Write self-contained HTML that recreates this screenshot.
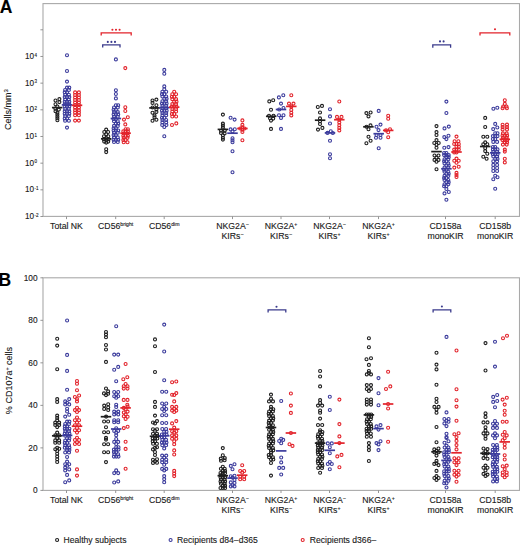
<!DOCTYPE html>
<html><head><meta charset="utf-8">
<style>
html,body{margin:0;padding:0;background:#fff;}
svg{display:block;}
text{font-family:"Liberation Sans",sans-serif;fill:#1a1a1a;stroke:#1a1a1a;stroke-width:0.12px;}
.pts circle{fill:none;stroke-width:1.1;}
.meds line{stroke-width:1.7;}
.ax{stroke:#a9a9a9;stroke-width:1.1;fill:none;}
.tk{stroke:#8a8a8a;stroke-width:0.9;}
.yl{font-size:8.3px;text-anchor:end;}
.sp{font-size:5.2px;}
.xl{font-size:8.7px;text-anchor:middle;}
.xs{font-size:5.2px;}
.lg{font-size:8.6px;}
.pl{font-size:17.5px;font-weight:bold;fill:#000;}
</style></head>
<body>
<svg width="520" height="546" viewBox="0 0 520 546">
<!-- panel labels -->
<text class="pl" x="-0.3" y="12.6">A</text>
<text class="pl" x="-1.4" y="285.8">B</text>

<!-- Panel A frame -->
<rect class="ax" x="43" y="3.6" width="476.5" height="212.8"/>
<g class="tk">
<line x1="40.4" x2="43" y1="216.50" y2="216.50"/>
<line x1="40.4" x2="43" y1="189.83" y2="189.83"/>
<line x1="40.4" x2="43" y1="163.16" y2="163.16"/>
<line x1="40.4" x2="43" y1="136.49" y2="136.49"/>
<line x1="40.4" x2="43" y1="109.82" y2="109.82"/>
<line x1="40.4" x2="43" y1="83.15" y2="83.15"/>
<line x1="40.4" x2="43" y1="56.48" y2="56.48"/>
<line x1="40.4" x2="43" y1="29.81" y2="29.81"/>
<line x1="66.5" x2="66.5" y1="216.5" y2="219.1"/>
<line x1="115.7" x2="115.7" y1="216.5" y2="219.1"/>
<line x1="164.2" x2="164.2" y1="216.5" y2="219.1"/>
<line x1="232.5" x2="232.5" y1="216.5" y2="219.1"/>
<line x1="281" x2="281" y1="216.5" y2="219.1"/>
<line x1="329.5" x2="329.5" y1="216.5" y2="219.1"/>
<line x1="378.5" x2="378.5" y1="216.5" y2="219.1"/>
<line x1="445.5" x2="445.5" y1="216.5" y2="219.1"/>
<line x1="495.2" x2="495.2" y1="216.5" y2="219.1"/>
</g>
<g>
<text font-size="8.2" x="34.1" y="219.10" text-anchor="end">10</text><text font-size="4.5" x="34.5" y="216.70">-2</text>
<text font-size="8.2" x="34.1" y="192.43" text-anchor="end">10</text><text font-size="4.5" x="34.5" y="190.03">-1</text>
<text font-size="8.2" x="34.1" y="165.76" text-anchor="end">10</text><text font-size="4.5" x="34.5" y="163.36">0</text>
<text font-size="8.2" x="34.1" y="139.09" text-anchor="end">10</text><text font-size="4.5" x="34.5" y="136.69">1</text>
<text font-size="8.2" x="34.1" y="112.42" text-anchor="end">10</text><text font-size="4.5" x="34.5" y="110.02">2</text>
<text font-size="8.2" x="34.1" y="85.75" text-anchor="end">10</text><text font-size="4.5" x="34.5" y="83.35">3</text>
<text font-size="8.2" x="34.1" y="59.08" text-anchor="end">10</text><text font-size="4.5" x="34.5" y="56.68">4</text>
<text class="xl" x="66.5" y="228.8">Total NK</text>
<text class="xl" x="115.7" y="228.8">CD56<tspan class="xs" dy="-2.6">bright</tspan></text>
<text class="xl" x="164.2" y="228.8">CD56<tspan class="xs" dy="-2.6">dim</tspan></text>
<text class="xl" x="232.5" y="228.8">NKG2A<tspan class="xs" dy="-2.6">−</tspan></text>
<text class="xl" x="232.5" y="238.9">KIRs<tspan class="xs" dy="-2.6">−</tspan></text>
<text class="xl" x="281" y="228.8">NKG2A<tspan class="xs" dy="-2.6">+</tspan></text>
<text class="xl" x="281" y="238.9">KIRs<tspan class="xs" dy="-2.6">−</tspan></text>
<text class="xl" x="329.5" y="228.8">NKG2A<tspan class="xs" dy="-2.6">−</tspan></text>
<text class="xl" x="329.5" y="238.9">KIRs<tspan class="xs" dy="-2.6">+</tspan></text>
<text class="xl" x="378.5" y="228.8">NKG2A<tspan class="xs" dy="-2.6">+</tspan></text>
<text class="xl" x="378.5" y="238.9">KIRs<tspan class="xs" dy="-2.6">+</tspan></text>
<text class="xl" x="445.5" y="228.8">CD158a</text>
<text class="xl" x="445.5" y="238.9">monoKIR</text>
<text class="xl" x="495.2" y="228.8">CD158b</text>
<text class="xl" x="495.2" y="238.9">monoKIR</text>
</g>
<text font-size="9" transform="translate(11.0,109.6) rotate(-90)" text-anchor="middle">Cells/mm<tspan font-size="6" dy="-3.0">3</tspan></text>

<!-- Panel B frame -->
<rect class="ax" x="43" y="277.8" width="476.5" height="212.6"/>
<g class="tk">
<line x1="40.4" x2="43" y1="490.40" y2="490.40"/>
<line x1="40.4" x2="43" y1="447.88" y2="447.88"/>
<line x1="40.4" x2="43" y1="405.36" y2="405.36"/>
<line x1="40.4" x2="43" y1="362.84" y2="362.84"/>
<line x1="40.4" x2="43" y1="320.32" y2="320.32"/>
<line x1="40.4" x2="43" y1="277.80" y2="277.80"/>
<line x1="66.5" x2="66.5" y1="490.4" y2="493.0"/>
<line x1="115.7" x2="115.7" y1="490.4" y2="493.0"/>
<line x1="164.2" x2="164.2" y1="490.4" y2="493.0"/>
<line x1="232.5" x2="232.5" y1="490.4" y2="493.0"/>
<line x1="281" x2="281" y1="490.4" y2="493.0"/>
<line x1="329.5" x2="329.5" y1="490.4" y2="493.0"/>
<line x1="378.5" x2="378.5" y1="490.4" y2="493.0"/>
<line x1="445.5" x2="445.5" y1="490.4" y2="493.0"/>
<line x1="495.2" x2="495.2" y1="490.4" y2="493.0"/>
</g>
<g>
<text class="yl" x="37.6" y="493.30">0</text>
<text class="yl" x="37.6" y="450.78">20</text>
<text class="yl" x="37.6" y="408.26">40</text>
<text class="yl" x="37.6" y="365.74">60</text>
<text class="yl" x="37.6" y="323.22">80</text>
<text class="yl" x="37.6" y="280.70">100</text>
<text class="xl" x="66.5" y="502.7">Total NK</text>
<text class="xl" x="115.7" y="502.7">CD56<tspan class="xs" dy="-2.6">bright</tspan></text>
<text class="xl" x="164.2" y="502.7">CD56<tspan class="xs" dy="-2.6">dim</tspan></text>
<text class="xl" x="232.5" y="502.7">NKG2A<tspan class="xs" dy="-2.6">−</tspan></text>
<text class="xl" x="232.5" y="512.8">KIRs<tspan class="xs" dy="-2.6">−</tspan></text>
<text class="xl" x="281" y="502.7">NKG2A<tspan class="xs" dy="-2.6">+</tspan></text>
<text class="xl" x="281" y="512.8">KIRs<tspan class="xs" dy="-2.6">−</tspan></text>
<text class="xl" x="329.5" y="502.7">NKG2A<tspan class="xs" dy="-2.6">−</tspan></text>
<text class="xl" x="329.5" y="512.8">KIRs<tspan class="xs" dy="-2.6">+</tspan></text>
<text class="xl" x="378.5" y="502.7">NKG2A<tspan class="xs" dy="-2.6">+</tspan></text>
<text class="xl" x="378.5" y="512.8">KIRs<tspan class="xs" dy="-2.6">+</tspan></text>
<text class="xl" x="445.5" y="502.7">CD158a</text>
<text class="xl" x="445.5" y="512.8">monoKIR</text>
<text class="xl" x="495.2" y="502.7">CD158b</text>
<text class="xl" x="495.2" y="512.8">monoKIR</text>
</g>
<text font-size="9" transform="translate(11.8,380.5) rotate(-90)" text-anchor="middle">% CD107a<tspan font-size="5.5" dy="-3.2">+</tspan><tspan dy="3.2"> cells</tspan></text>

<!-- brackets -->
<path d="M101.2 35.599999999999994V32.8H131.2V35.599999999999994" fill="none" stroke="#e2232b" stroke-width="1.3"/><circle cx="112.40" cy="29.8" r="1.05" fill="#e2232b"/><circle cx="116.00" cy="29.8" r="1.05" fill="#e2232b"/><circle cx="119.60" cy="29.8" r="1.05" fill="#e2232b"/>
<path d="M102.7 47.599999999999994V44.8H120V47.599999999999994" fill="none" stroke="#3a3a8c" stroke-width="1.3"/><circle cx="107.80" cy="41.9" r="1.05" fill="#3a3a8c"/><circle cx="111.40" cy="41.9" r="1.05" fill="#3a3a8c"/><circle cx="115.00" cy="41.9" r="1.05" fill="#3a3a8c"/>
<path d="M432.8 47.699999999999996V44.9H450.6V47.699999999999996" fill="none" stroke="#3a3a8c" stroke-width="1.3"/><circle cx="440.00" cy="41.4" r="1.05" fill="#3a3a8c"/><circle cx="443.60" cy="41.4" r="1.05" fill="#3a3a8c"/>
<path d="M480 35.599999999999994V32.8H509.8V35.599999999999994" fill="none" stroke="#e2232b" stroke-width="1.3"/><circle cx="495.00" cy="29.3" r="1.05" fill="#e2232b"/>
<path d="M268.1 312.6V309.8H285.8V312.6" fill="none" stroke="#3a3a8c" stroke-width="1.3"/><circle cx="276.50" cy="306.8" r="1.05" fill="#3a3a8c"/>
<path d="M433.1 312.6V309.8H450.8V312.6" fill="none" stroke="#3a3a8c" stroke-width="1.3"/><circle cx="441.90" cy="306.5" r="1.05" fill="#3a3a8c"/>

<g class="pts">
<circle cx="59.40" cy="99.10" r="1.5" stroke="#1e1e1e"/>
<circle cx="55.50" cy="100.50" r="1.5" stroke="#1e1e1e"/>
<circle cx="59.40" cy="102.10" r="1.5" stroke="#1e1e1e"/>
<circle cx="55.50" cy="104.30" r="1.5" stroke="#1e1e1e"/>
<circle cx="57.40" cy="106.50" r="1.5" stroke="#1e1e1e"/>
<circle cx="55.30" cy="108.60" r="1.5" stroke="#1e1e1e"/>
<circle cx="58.80" cy="109.60" r="1.5" stroke="#1e1e1e"/>
<circle cx="55.50" cy="111.20" r="1.5" stroke="#1e1e1e"/>
<circle cx="57.40" cy="112.80" r="1.5" stroke="#1e1e1e"/>
<circle cx="57.40" cy="114.60" r="1.5" stroke="#1e1e1e"/>
<circle cx="57.40" cy="116.40" r="1.5" stroke="#1e1e1e"/>
<circle cx="57.40" cy="118.20" r="1.5" stroke="#1e1e1e"/>
<circle cx="57.40" cy="120.20" r="1.5" stroke="#1e1e1e"/>
<circle cx="67.00" cy="55.30" r="1.5" stroke="#3b3b9c"/>
<circle cx="67.00" cy="71.00" r="1.5" stroke="#3b3b9c"/>
<circle cx="67.00" cy="81.60" r="1.5" stroke="#3b3b9c"/>
<circle cx="67.00" cy="127.60" r="1.5" stroke="#3b3b9c"/>
<circle cx="67.00" cy="87.60" r="1.5" stroke="#3b3b9c"/>
<circle cx="69.30" cy="87.60" r="1.5" stroke="#3b3b9c"/>
<circle cx="65.10" cy="89.97" r="1.5" stroke="#3b3b9c"/>
<circle cx="68.90" cy="89.97" r="1.5" stroke="#3b3b9c"/>
<circle cx="64.70" cy="92.34" r="1.5" stroke="#3b3b9c"/>
<circle cx="67.00" cy="92.34" r="1.5" stroke="#3b3b9c"/>
<circle cx="65.10" cy="94.71" r="1.5" stroke="#3b3b9c"/>
<circle cx="68.90" cy="94.71" r="1.5" stroke="#3b3b9c"/>
<circle cx="64.70" cy="97.09" r="1.5" stroke="#3b3b9c"/>
<circle cx="67.00" cy="97.09" r="1.5" stroke="#3b3b9c"/>
<circle cx="69.30" cy="97.09" r="1.5" stroke="#3b3b9c"/>
<circle cx="65.10" cy="99.46" r="1.5" stroke="#3b3b9c"/>
<circle cx="68.90" cy="99.46" r="1.5" stroke="#3b3b9c"/>
<circle cx="64.70" cy="101.83" r="1.5" stroke="#3b3b9c"/>
<circle cx="67.00" cy="101.83" r="1.5" stroke="#3b3b9c"/>
<circle cx="69.30" cy="101.83" r="1.5" stroke="#3b3b9c"/>
<circle cx="64.70" cy="104.20" r="1.5" stroke="#3b3b9c"/>
<circle cx="67.00" cy="104.20" r="1.5" stroke="#3b3b9c"/>
<circle cx="69.30" cy="104.20" r="1.5" stroke="#3b3b9c"/>
<circle cx="64.70" cy="106.57" r="1.5" stroke="#3b3b9c"/>
<circle cx="67.00" cy="106.57" r="1.5" stroke="#3b3b9c"/>
<circle cx="69.30" cy="106.57" r="1.5" stroke="#3b3b9c"/>
<circle cx="65.10" cy="108.94" r="1.5" stroke="#3b3b9c"/>
<circle cx="68.90" cy="108.94" r="1.5" stroke="#3b3b9c"/>
<circle cx="64.70" cy="111.31" r="1.5" stroke="#3b3b9c"/>
<circle cx="67.00" cy="111.31" r="1.5" stroke="#3b3b9c"/>
<circle cx="69.30" cy="111.31" r="1.5" stroke="#3b3b9c"/>
<circle cx="64.70" cy="113.69" r="1.5" stroke="#3b3b9c"/>
<circle cx="67.00" cy="113.69" r="1.5" stroke="#3b3b9c"/>
<circle cx="69.30" cy="113.69" r="1.5" stroke="#3b3b9c"/>
<circle cx="65.10" cy="116.06" r="1.5" stroke="#3b3b9c"/>
<circle cx="68.90" cy="116.06" r="1.5" stroke="#3b3b9c"/>
<circle cx="64.70" cy="118.43" r="1.5" stroke="#3b3b9c"/>
<circle cx="67.00" cy="118.43" r="1.5" stroke="#3b3b9c"/>
<circle cx="65.10" cy="120.80" r="1.5" stroke="#3b3b9c"/>
<circle cx="68.90" cy="120.80" r="1.5" stroke="#3b3b9c"/>
<circle cx="75.10" cy="92.40" r="1.5" stroke="#e2232b"/>
<circle cx="78.90" cy="92.40" r="1.5" stroke="#e2232b"/>
<circle cx="75.10" cy="94.93" r="1.5" stroke="#e2232b"/>
<circle cx="78.90" cy="94.93" r="1.5" stroke="#e2232b"/>
<circle cx="75.10" cy="97.47" r="1.5" stroke="#e2232b"/>
<circle cx="78.90" cy="97.47" r="1.5" stroke="#e2232b"/>
<circle cx="75.10" cy="100.00" r="1.5" stroke="#e2232b"/>
<circle cx="78.90" cy="100.00" r="1.5" stroke="#e2232b"/>
<circle cx="75.10" cy="102.53" r="1.5" stroke="#e2232b"/>
<circle cx="78.90" cy="102.53" r="1.5" stroke="#e2232b"/>
<circle cx="75.10" cy="105.07" r="1.5" stroke="#e2232b"/>
<circle cx="78.90" cy="105.07" r="1.5" stroke="#e2232b"/>
<circle cx="75.10" cy="107.60" r="1.5" stroke="#e2232b"/>
<circle cx="78.90" cy="107.60" r="1.5" stroke="#e2232b"/>
<circle cx="75.10" cy="110.13" r="1.5" stroke="#e2232b"/>
<circle cx="78.90" cy="110.13" r="1.5" stroke="#e2232b"/>
<circle cx="75.10" cy="112.67" r="1.5" stroke="#e2232b"/>
<circle cx="78.90" cy="112.67" r="1.5" stroke="#e2232b"/>
<circle cx="75.10" cy="115.20" r="1.5" stroke="#e2232b"/>
<circle cx="78.90" cy="115.20" r="1.5" stroke="#e2232b"/>
<circle cx="75.10" cy="120.60" r="1.5" stroke="#e2232b"/>
<circle cx="78.90" cy="120.60" r="1.5" stroke="#e2232b"/>
<circle cx="106.20" cy="129.60" r="1.5" stroke="#1e1e1e"/>
<circle cx="104.30" cy="132.00" r="1.5" stroke="#1e1e1e"/>
<circle cx="108.10" cy="132.00" r="1.5" stroke="#1e1e1e"/>
<circle cx="106.20" cy="134.20" r="1.5" stroke="#1e1e1e"/>
<circle cx="104.00" cy="136.30" r="1.5" stroke="#1e1e1e"/>
<circle cx="108.30" cy="136.30" r="1.5" stroke="#1e1e1e"/>
<circle cx="106.20" cy="138.40" r="1.5" stroke="#1e1e1e"/>
<circle cx="103.80" cy="139.20" r="1.5" stroke="#1e1e1e"/>
<circle cx="108.60" cy="139.20" r="1.5" stroke="#1e1e1e"/>
<circle cx="104.20" cy="141.60" r="1.5" stroke="#1e1e1e"/>
<circle cx="108.20" cy="141.60" r="1.5" stroke="#1e1e1e"/>
<circle cx="106.20" cy="142.60" r="1.5" stroke="#1e1e1e"/>
<circle cx="106.20" cy="149.30" r="1.5" stroke="#1e1e1e"/>
<circle cx="106.20" cy="152.10" r="1.5" stroke="#1e1e1e"/>
<circle cx="115.90" cy="59.40" r="1.5" stroke="#3b3b9c"/>
<circle cx="115.90" cy="90.20" r="1.5" stroke="#3b3b9c"/>
<circle cx="115.90" cy="94.00" r="1.5" stroke="#3b3b9c"/>
<circle cx="115.90" cy="98.40" r="1.5" stroke="#3b3b9c"/>
<circle cx="115.90" cy="105.20" r="1.5" stroke="#3b3b9c"/>
<circle cx="118.20" cy="105.20" r="1.5" stroke="#3b3b9c"/>
<circle cx="114.00" cy="107.50" r="1.5" stroke="#3b3b9c"/>
<circle cx="117.80" cy="107.50" r="1.5" stroke="#3b3b9c"/>
<circle cx="113.60" cy="109.80" r="1.5" stroke="#3b3b9c"/>
<circle cx="115.90" cy="109.80" r="1.5" stroke="#3b3b9c"/>
<circle cx="114.00" cy="112.10" r="1.5" stroke="#3b3b9c"/>
<circle cx="117.80" cy="112.10" r="1.5" stroke="#3b3b9c"/>
<circle cx="113.60" cy="114.40" r="1.5" stroke="#3b3b9c"/>
<circle cx="115.90" cy="114.40" r="1.5" stroke="#3b3b9c"/>
<circle cx="118.20" cy="114.40" r="1.5" stroke="#3b3b9c"/>
<circle cx="114.00" cy="116.70" r="1.5" stroke="#3b3b9c"/>
<circle cx="117.80" cy="116.70" r="1.5" stroke="#3b3b9c"/>
<circle cx="113.60" cy="119.00" r="1.5" stroke="#3b3b9c"/>
<circle cx="115.90" cy="119.00" r="1.5" stroke="#3b3b9c"/>
<circle cx="114.00" cy="121.30" r="1.5" stroke="#3b3b9c"/>
<circle cx="117.80" cy="121.30" r="1.5" stroke="#3b3b9c"/>
<circle cx="115.90" cy="123.60" r="1.5" stroke="#3b3b9c"/>
<circle cx="118.20" cy="123.60" r="1.5" stroke="#3b3b9c"/>
<circle cx="114.00" cy="125.90" r="1.5" stroke="#3b3b9c"/>
<circle cx="117.80" cy="125.90" r="1.5" stroke="#3b3b9c"/>
<circle cx="113.60" cy="128.20" r="1.5" stroke="#3b3b9c"/>
<circle cx="115.90" cy="128.20" r="1.5" stroke="#3b3b9c"/>
<circle cx="113.60" cy="130.50" r="1.5" stroke="#3b3b9c"/>
<circle cx="115.90" cy="130.50" r="1.5" stroke="#3b3b9c"/>
<circle cx="118.20" cy="130.50" r="1.5" stroke="#3b3b9c"/>
<circle cx="114.00" cy="132.80" r="1.5" stroke="#3b3b9c"/>
<circle cx="117.80" cy="132.80" r="1.5" stroke="#3b3b9c"/>
<circle cx="113.60" cy="135.10" r="1.5" stroke="#3b3b9c"/>
<circle cx="115.90" cy="135.10" r="1.5" stroke="#3b3b9c"/>
<circle cx="114.00" cy="137.40" r="1.5" stroke="#3b3b9c"/>
<circle cx="117.80" cy="137.40" r="1.5" stroke="#3b3b9c"/>
<circle cx="113.60" cy="139.70" r="1.5" stroke="#3b3b9c"/>
<circle cx="115.90" cy="139.70" r="1.5" stroke="#3b3b9c"/>
<circle cx="118.20" cy="139.70" r="1.5" stroke="#3b3b9c"/>
<circle cx="114.00" cy="142.00" r="1.5" stroke="#3b3b9c"/>
<circle cx="117.80" cy="142.00" r="1.5" stroke="#3b3b9c"/>
<circle cx="125.30" cy="68.10" r="1.5" stroke="#e2232b"/>
<circle cx="125.30" cy="107.20" r="1.5" stroke="#e2232b"/>
<circle cx="125.30" cy="111.00" r="1.5" stroke="#e2232b"/>
<circle cx="125.30" cy="124.40" r="1.5" stroke="#e2232b"/>
<circle cx="127.80" cy="117.30" r="1.5" stroke="#e2232b"/>
<circle cx="124.00" cy="119.60" r="1.5" stroke="#e2232b"/>
<circle cx="125.60" cy="129.20" r="1.5" stroke="#e2232b"/>
<circle cx="127.90" cy="129.20" r="1.5" stroke="#e2232b"/>
<circle cx="123.30" cy="131.37" r="1.5" stroke="#e2232b"/>
<circle cx="125.60" cy="131.37" r="1.5" stroke="#e2232b"/>
<circle cx="127.90" cy="131.37" r="1.5" stroke="#e2232b"/>
<circle cx="123.70" cy="133.53" r="1.5" stroke="#e2232b"/>
<circle cx="127.50" cy="133.53" r="1.5" stroke="#e2232b"/>
<circle cx="123.30" cy="135.70" r="1.5" stroke="#e2232b"/>
<circle cx="125.60" cy="135.70" r="1.5" stroke="#e2232b"/>
<circle cx="127.90" cy="135.70" r="1.5" stroke="#e2232b"/>
<circle cx="123.70" cy="137.87" r="1.5" stroke="#e2232b"/>
<circle cx="127.50" cy="137.87" r="1.5" stroke="#e2232b"/>
<circle cx="123.30" cy="140.03" r="1.5" stroke="#e2232b"/>
<circle cx="125.60" cy="140.03" r="1.5" stroke="#e2232b"/>
<circle cx="123.70" cy="142.20" r="1.5" stroke="#e2232b"/>
<circle cx="127.50" cy="142.20" r="1.5" stroke="#e2232b"/>
<circle cx="152.50" cy="100.50" r="1.5" stroke="#1e1e1e"/>
<circle cx="156.40" cy="99.60" r="1.5" stroke="#1e1e1e"/>
<circle cx="152.50" cy="102.90" r="1.5" stroke="#1e1e1e"/>
<circle cx="156.40" cy="105.30" r="1.5" stroke="#1e1e1e"/>
<circle cx="152.50" cy="107.50" r="1.5" stroke="#1e1e1e"/>
<circle cx="156.40" cy="109.40" r="1.5" stroke="#1e1e1e"/>
<circle cx="156.40" cy="111.90" r="1.5" stroke="#1e1e1e"/>
<circle cx="152.50" cy="112.80" r="1.5" stroke="#1e1e1e"/>
<circle cx="154.50" cy="115.40" r="1.5" stroke="#1e1e1e"/>
<circle cx="154.50" cy="117.40" r="1.5" stroke="#1e1e1e"/>
<circle cx="156.40" cy="119.80" r="1.5" stroke="#1e1e1e"/>
<circle cx="152.50" cy="120.70" r="1.5" stroke="#1e1e1e"/>
<circle cx="164.30" cy="69.90" r="1.5" stroke="#3b3b9c"/>
<circle cx="164.30" cy="73.70" r="1.5" stroke="#3b3b9c"/>
<circle cx="164.30" cy="86.40" r="1.5" stroke="#3b3b9c"/>
<circle cx="164.30" cy="89.20" r="1.5" stroke="#3b3b9c"/>
<circle cx="162.40" cy="91.80" r="1.5" stroke="#3b3b9c"/>
<circle cx="166.20" cy="91.80" r="1.5" stroke="#3b3b9c"/>
<circle cx="162.00" cy="94.15" r="1.5" stroke="#3b3b9c"/>
<circle cx="164.30" cy="94.15" r="1.5" stroke="#3b3b9c"/>
<circle cx="162.40" cy="96.51" r="1.5" stroke="#3b3b9c"/>
<circle cx="166.20" cy="96.51" r="1.5" stroke="#3b3b9c"/>
<circle cx="164.30" cy="98.86" r="1.5" stroke="#3b3b9c"/>
<circle cx="166.60" cy="98.86" r="1.5" stroke="#3b3b9c"/>
<circle cx="162.40" cy="101.22" r="1.5" stroke="#3b3b9c"/>
<circle cx="166.20" cy="101.22" r="1.5" stroke="#3b3b9c"/>
<circle cx="162.00" cy="103.57" r="1.5" stroke="#3b3b9c"/>
<circle cx="164.30" cy="103.57" r="1.5" stroke="#3b3b9c"/>
<circle cx="166.60" cy="103.57" r="1.5" stroke="#3b3b9c"/>
<circle cx="162.40" cy="105.92" r="1.5" stroke="#3b3b9c"/>
<circle cx="166.20" cy="105.92" r="1.5" stroke="#3b3b9c"/>
<circle cx="162.40" cy="108.28" r="1.5" stroke="#3b3b9c"/>
<circle cx="166.20" cy="108.28" r="1.5" stroke="#3b3b9c"/>
<circle cx="162.00" cy="110.63" r="1.5" stroke="#3b3b9c"/>
<circle cx="164.30" cy="110.63" r="1.5" stroke="#3b3b9c"/>
<circle cx="166.60" cy="110.63" r="1.5" stroke="#3b3b9c"/>
<circle cx="162.40" cy="112.98" r="1.5" stroke="#3b3b9c"/>
<circle cx="166.20" cy="112.98" r="1.5" stroke="#3b3b9c"/>
<circle cx="162.40" cy="115.34" r="1.5" stroke="#3b3b9c"/>
<circle cx="166.20" cy="115.34" r="1.5" stroke="#3b3b9c"/>
<circle cx="162.00" cy="117.69" r="1.5" stroke="#3b3b9c"/>
<circle cx="164.30" cy="117.69" r="1.5" stroke="#3b3b9c"/>
<circle cx="162.40" cy="120.05" r="1.5" stroke="#3b3b9c"/>
<circle cx="166.20" cy="120.05" r="1.5" stroke="#3b3b9c"/>
<circle cx="162.40" cy="122.40" r="1.5" stroke="#3b3b9c"/>
<circle cx="166.20" cy="122.40" r="1.5" stroke="#3b3b9c"/>
<circle cx="162.20" cy="125.00" r="1.5" stroke="#3b3b9c"/>
<circle cx="166.40" cy="125.00" r="1.5" stroke="#3b3b9c"/>
<circle cx="164.30" cy="127.00" r="1.5" stroke="#3b3b9c"/>
<circle cx="164.30" cy="136.20" r="1.5" stroke="#3b3b9c"/>
<circle cx="174.20" cy="91.70" r="1.5" stroke="#e2232b"/>
<circle cx="172.30" cy="94.20" r="1.5" stroke="#e2232b"/>
<circle cx="176.10" cy="94.20" r="1.5" stroke="#e2232b"/>
<circle cx="171.90" cy="96.68" r="1.5" stroke="#e2232b"/>
<circle cx="174.20" cy="96.68" r="1.5" stroke="#e2232b"/>
<circle cx="172.30" cy="99.16" r="1.5" stroke="#e2232b"/>
<circle cx="176.10" cy="99.16" r="1.5" stroke="#e2232b"/>
<circle cx="174.20" cy="101.63" r="1.5" stroke="#e2232b"/>
<circle cx="176.50" cy="101.63" r="1.5" stroke="#e2232b"/>
<circle cx="172.30" cy="104.11" r="1.5" stroke="#e2232b"/>
<circle cx="176.10" cy="104.11" r="1.5" stroke="#e2232b"/>
<circle cx="171.90" cy="106.59" r="1.5" stroke="#e2232b"/>
<circle cx="174.20" cy="106.59" r="1.5" stroke="#e2232b"/>
<circle cx="176.50" cy="106.59" r="1.5" stroke="#e2232b"/>
<circle cx="172.30" cy="109.07" r="1.5" stroke="#e2232b"/>
<circle cx="176.10" cy="109.07" r="1.5" stroke="#e2232b"/>
<circle cx="172.30" cy="111.54" r="1.5" stroke="#e2232b"/>
<circle cx="176.10" cy="111.54" r="1.5" stroke="#e2232b"/>
<circle cx="171.90" cy="114.02" r="1.5" stroke="#e2232b"/>
<circle cx="174.20" cy="114.02" r="1.5" stroke="#e2232b"/>
<circle cx="172.30" cy="116.50" r="1.5" stroke="#e2232b"/>
<circle cx="176.10" cy="116.50" r="1.5" stroke="#e2232b"/>
<circle cx="172.00" cy="125.00" r="1.5" stroke="#e2232b"/>
<circle cx="176.30" cy="123.40" r="1.5" stroke="#e2232b"/>
<circle cx="222.90" cy="114.60" r="1.5" stroke="#1e1e1e"/>
<circle cx="222.90" cy="123.60" r="1.5" stroke="#1e1e1e"/>
<circle cx="222.90" cy="125.60" r="1.5" stroke="#1e1e1e"/>
<circle cx="222.90" cy="127.60" r="1.5" stroke="#1e1e1e"/>
<circle cx="221.00" cy="130.80" r="1.5" stroke="#1e1e1e"/>
<circle cx="224.80" cy="130.60" r="1.5" stroke="#1e1e1e"/>
<circle cx="221.00" cy="133.00" r="1.5" stroke="#1e1e1e"/>
<circle cx="224.60" cy="133.40" r="1.5" stroke="#1e1e1e"/>
<circle cx="222.90" cy="135.20" r="1.5" stroke="#1e1e1e"/>
<circle cx="222.90" cy="137.70" r="1.5" stroke="#1e1e1e"/>
<circle cx="222.90" cy="139.60" r="1.5" stroke="#1e1e1e"/>
<circle cx="230.60" cy="117.80" r="1.5" stroke="#3b3b9c"/>
<circle cx="234.60" cy="119.60" r="1.5" stroke="#3b3b9c"/>
<circle cx="230.60" cy="129.40" r="1.5" stroke="#3b3b9c"/>
<circle cx="234.80" cy="129.20" r="1.5" stroke="#3b3b9c"/>
<circle cx="232.50" cy="131.40" r="1.5" stroke="#3b3b9c"/>
<circle cx="232.50" cy="138.30" r="1.5" stroke="#3b3b9c"/>
<circle cx="232.50" cy="140.30" r="1.5" stroke="#3b3b9c"/>
<circle cx="232.50" cy="142.20" r="1.5" stroke="#3b3b9c"/>
<circle cx="232.50" cy="151.20" r="1.5" stroke="#3b3b9c"/>
<circle cx="232.50" cy="172.30" r="1.5" stroke="#3b3b9c"/>
<circle cx="242.40" cy="120.40" r="1.5" stroke="#e2232b"/>
<circle cx="242.40" cy="124.90" r="1.5" stroke="#e2232b"/>
<circle cx="242.40" cy="127.20" r="1.5" stroke="#e2232b"/>
<circle cx="242.40" cy="129.80" r="1.5" stroke="#e2232b"/>
<circle cx="242.40" cy="131.90" r="1.5" stroke="#e2232b"/>
<circle cx="242.40" cy="140.30" r="1.5" stroke="#e2232b"/>
<circle cx="240.20" cy="128.50" r="1.5" stroke="#e2232b"/>
<circle cx="244.60" cy="128.50" r="1.5" stroke="#e2232b"/>
<circle cx="269.30" cy="101.40" r="1.5" stroke="#1e1e1e"/>
<circle cx="273.20" cy="100.30" r="1.5" stroke="#1e1e1e"/>
<circle cx="271.00" cy="109.70" r="1.5" stroke="#1e1e1e"/>
<circle cx="269.00" cy="115.70" r="1.5" stroke="#1e1e1e"/>
<circle cx="273.50" cy="115.70" r="1.5" stroke="#1e1e1e"/>
<circle cx="270.00" cy="118.20" r="1.5" stroke="#1e1e1e"/>
<circle cx="273.20" cy="118.60" r="1.5" stroke="#1e1e1e"/>
<circle cx="271.00" cy="120.60" r="1.5" stroke="#1e1e1e"/>
<circle cx="271.00" cy="128.90" r="1.5" stroke="#1e1e1e"/>
<circle cx="278.90" cy="97.40" r="1.5" stroke="#3b3b9c"/>
<circle cx="283.30" cy="95.20" r="1.5" stroke="#3b3b9c"/>
<circle cx="281.00" cy="103.60" r="1.5" stroke="#3b3b9c"/>
<circle cx="283.50" cy="108.00" r="1.5" stroke="#3b3b9c"/>
<circle cx="279.20" cy="109.50" r="1.5" stroke="#3b3b9c"/>
<circle cx="279.00" cy="115.20" r="1.5" stroke="#3b3b9c"/>
<circle cx="283.50" cy="115.20" r="1.5" stroke="#3b3b9c"/>
<circle cx="281.00" cy="117.90" r="1.5" stroke="#3b3b9c"/>
<circle cx="281.00" cy="128.90" r="1.5" stroke="#3b3b9c"/>
<circle cx="291.30" cy="95.20" r="1.5" stroke="#e2232b"/>
<circle cx="289.00" cy="103.60" r="1.5" stroke="#e2232b"/>
<circle cx="293.50" cy="103.60" r="1.5" stroke="#e2232b"/>
<circle cx="291.30" cy="106.40" r="1.5" stroke="#e2232b"/>
<circle cx="291.30" cy="109.90" r="1.5" stroke="#e2232b"/>
<circle cx="291.30" cy="112.70" r="1.5" stroke="#e2232b"/>
<circle cx="291.30" cy="115.40" r="1.5" stroke="#e2232b"/>
<circle cx="317.80" cy="107.00" r="1.5" stroke="#1e1e1e"/>
<circle cx="322.00" cy="105.90" r="1.5" stroke="#1e1e1e"/>
<circle cx="320.00" cy="112.50" r="1.5" stroke="#1e1e1e"/>
<circle cx="320.00" cy="118.40" r="1.5" stroke="#1e1e1e"/>
<circle cx="320.00" cy="121.20" r="1.5" stroke="#1e1e1e"/>
<circle cx="320.00" cy="124.00" r="1.5" stroke="#1e1e1e"/>
<circle cx="318.00" cy="129.60" r="1.5" stroke="#1e1e1e"/>
<circle cx="322.40" cy="127.90" r="1.5" stroke="#1e1e1e"/>
<circle cx="330.00" cy="109.20" r="1.5" stroke="#3b3b9c"/>
<circle cx="330.00" cy="116.40" r="1.5" stroke="#3b3b9c"/>
<circle cx="330.00" cy="123.50" r="1.5" stroke="#3b3b9c"/>
<circle cx="327.50" cy="132.90" r="1.5" stroke="#3b3b9c"/>
<circle cx="332.80" cy="133.00" r="1.5" stroke="#3b3b9c"/>
<circle cx="330.80" cy="131.20" r="1.5" stroke="#3b3b9c"/>
<circle cx="330.00" cy="140.80" r="1.5" stroke="#3b3b9c"/>
<circle cx="330.00" cy="154.20" r="1.5" stroke="#3b3b9c"/>
<circle cx="330.00" cy="158.20" r="1.5" stroke="#3b3b9c"/>
<circle cx="339.30" cy="101.50" r="1.5" stroke="#e2232b"/>
<circle cx="337.00" cy="116.90" r="1.5" stroke="#e2232b"/>
<circle cx="341.50" cy="116.90" r="1.5" stroke="#e2232b"/>
<circle cx="339.30" cy="119.70" r="1.5" stroke="#e2232b"/>
<circle cx="339.30" cy="122.40" r="1.5" stroke="#e2232b"/>
<circle cx="339.30" cy="125.20" r="1.5" stroke="#e2232b"/>
<circle cx="339.30" cy="127.90" r="1.5" stroke="#e2232b"/>
<circle cx="339.30" cy="130.40" r="1.5" stroke="#e2232b"/>
<circle cx="366.40" cy="113.10" r="1.5" stroke="#1e1e1e"/>
<circle cx="370.60" cy="112.50" r="1.5" stroke="#1e1e1e"/>
<circle cx="368.50" cy="116.40" r="1.5" stroke="#1e1e1e"/>
<circle cx="370.50" cy="125.40" r="1.5" stroke="#1e1e1e"/>
<circle cx="366.50" cy="126.80" r="1.5" stroke="#1e1e1e"/>
<circle cx="368.50" cy="129.30" r="1.5" stroke="#1e1e1e"/>
<circle cx="368.50" cy="136.70" r="1.5" stroke="#1e1e1e"/>
<circle cx="366.40" cy="143.30" r="1.5" stroke="#1e1e1e"/>
<circle cx="370.60" cy="140.80" r="1.5" stroke="#1e1e1e"/>
<circle cx="378.70" cy="110.90" r="1.5" stroke="#3b3b9c"/>
<circle cx="380.50" cy="124.60" r="1.5" stroke="#3b3b9c"/>
<circle cx="376.50" cy="126.80" r="1.5" stroke="#3b3b9c"/>
<circle cx="378.50" cy="130.10" r="1.5" stroke="#3b3b9c"/>
<circle cx="376.50" cy="135.00" r="1.5" stroke="#3b3b9c"/>
<circle cx="380.50" cy="135.00" r="1.5" stroke="#3b3b9c"/>
<circle cx="376.00" cy="137.80" r="1.5" stroke="#3b3b9c"/>
<circle cx="380.50" cy="137.80" r="1.5" stroke="#3b3b9c"/>
<circle cx="378.70" cy="148.20" r="1.5" stroke="#3b3b9c"/>
<circle cx="388.20" cy="115.80" r="1.5" stroke="#e2232b"/>
<circle cx="388.20" cy="118.80" r="1.5" stroke="#e2232b"/>
<circle cx="390.00" cy="129.30" r="1.5" stroke="#e2232b"/>
<circle cx="386.00" cy="130.40" r="1.5" stroke="#e2232b"/>
<circle cx="388.20" cy="132.30" r="1.5" stroke="#e2232b"/>
<circle cx="388.20" cy="137.30" r="1.5" stroke="#e2232b"/>
<circle cx="436.50" cy="126.10" r="1.5" stroke="#1e1e1e"/>
<circle cx="436.50" cy="132.10" r="1.5" stroke="#1e1e1e"/>
<circle cx="436.50" cy="135.00" r="1.5" stroke="#1e1e1e"/>
<circle cx="436.50" cy="140.10" r="1.5" stroke="#1e1e1e"/>
<circle cx="436.50" cy="144.80" r="1.5" stroke="#1e1e1e"/>
<circle cx="436.50" cy="147.80" r="1.5" stroke="#1e1e1e"/>
<circle cx="436.50" cy="157.60" r="1.5" stroke="#1e1e1e"/>
<circle cx="436.50" cy="161.70" r="1.5" stroke="#1e1e1e"/>
<circle cx="436.50" cy="169.30" r="1.5" stroke="#1e1e1e"/>
<circle cx="434.30" cy="143.00" r="1.5" stroke="#1e1e1e"/>
<circle cx="438.70" cy="143.00" r="1.5" stroke="#1e1e1e"/>
<circle cx="434.50" cy="155.50" r="1.5" stroke="#1e1e1e"/>
<circle cx="438.50" cy="155.50" r="1.5" stroke="#1e1e1e"/>
<circle cx="434.50" cy="159.90" r="1.5" stroke="#1e1e1e"/>
<circle cx="438.50" cy="159.90" r="1.5" stroke="#1e1e1e"/>
<circle cx="446.40" cy="101.60" r="1.5" stroke="#3b3b9c"/>
<circle cx="446.40" cy="113.00" r="1.5" stroke="#3b3b9c"/>
<circle cx="446.40" cy="139.10" r="1.5" stroke="#3b3b9c"/>
<circle cx="444.50" cy="128.40" r="1.5" stroke="#3b3b9c"/>
<circle cx="448.80" cy="126.60" r="1.5" stroke="#3b3b9c"/>
<circle cx="444.30" cy="137.10" r="1.5" stroke="#3b3b9c"/>
<circle cx="448.50" cy="135.80" r="1.5" stroke="#3b3b9c"/>
<circle cx="444.30" cy="147.80" r="1.5" stroke="#3b3b9c"/>
<circle cx="448.50" cy="147.10" r="1.5" stroke="#3b3b9c"/>
<circle cx="444.10" cy="153.00" r="1.5" stroke="#3b3b9c"/>
<circle cx="446.40" cy="153.00" r="1.5" stroke="#3b3b9c"/>
<circle cx="444.10" cy="155.08" r="1.5" stroke="#3b3b9c"/>
<circle cx="446.40" cy="155.08" r="1.5" stroke="#3b3b9c"/>
<circle cx="448.70" cy="155.08" r="1.5" stroke="#3b3b9c"/>
<circle cx="446.40" cy="157.16" r="1.5" stroke="#3b3b9c"/>
<circle cx="448.70" cy="157.16" r="1.5" stroke="#3b3b9c"/>
<circle cx="444.50" cy="159.24" r="1.5" stroke="#3b3b9c"/>
<circle cx="448.30" cy="159.24" r="1.5" stroke="#3b3b9c"/>
<circle cx="444.10" cy="161.32" r="1.5" stroke="#3b3b9c"/>
<circle cx="446.40" cy="161.32" r="1.5" stroke="#3b3b9c"/>
<circle cx="444.50" cy="163.41" r="1.5" stroke="#3b3b9c"/>
<circle cx="448.30" cy="163.41" r="1.5" stroke="#3b3b9c"/>
<circle cx="446.40" cy="165.49" r="1.5" stroke="#3b3b9c"/>
<circle cx="448.70" cy="165.49" r="1.5" stroke="#3b3b9c"/>
<circle cx="444.50" cy="167.57" r="1.5" stroke="#3b3b9c"/>
<circle cx="448.30" cy="167.57" r="1.5" stroke="#3b3b9c"/>
<circle cx="444.10" cy="169.65" r="1.5" stroke="#3b3b9c"/>
<circle cx="446.40" cy="169.65" r="1.5" stroke="#3b3b9c"/>
<circle cx="444.50" cy="171.73" r="1.5" stroke="#3b3b9c"/>
<circle cx="448.30" cy="171.73" r="1.5" stroke="#3b3b9c"/>
<circle cx="446.40" cy="173.81" r="1.5" stroke="#3b3b9c"/>
<circle cx="448.70" cy="173.81" r="1.5" stroke="#3b3b9c"/>
<circle cx="444.50" cy="175.89" r="1.5" stroke="#3b3b9c"/>
<circle cx="448.30" cy="175.89" r="1.5" stroke="#3b3b9c"/>
<circle cx="444.10" cy="177.98" r="1.5" stroke="#3b3b9c"/>
<circle cx="446.40" cy="177.98" r="1.5" stroke="#3b3b9c"/>
<circle cx="444.50" cy="180.06" r="1.5" stroke="#3b3b9c"/>
<circle cx="448.30" cy="180.06" r="1.5" stroke="#3b3b9c"/>
<circle cx="446.40" cy="182.14" r="1.5" stroke="#3b3b9c"/>
<circle cx="448.70" cy="182.14" r="1.5" stroke="#3b3b9c"/>
<circle cx="444.50" cy="184.22" r="1.5" stroke="#3b3b9c"/>
<circle cx="448.30" cy="184.22" r="1.5" stroke="#3b3b9c"/>
<circle cx="444.10" cy="186.30" r="1.5" stroke="#3b3b9c"/>
<circle cx="446.40" cy="186.30" r="1.5" stroke="#3b3b9c"/>
<circle cx="446.40" cy="189.00" r="1.5" stroke="#3b3b9c"/>
<circle cx="444.50" cy="193.40" r="1.5" stroke="#3b3b9c"/>
<circle cx="448.80" cy="192.00" r="1.5" stroke="#3b3b9c"/>
<circle cx="446.40" cy="199.80" r="1.5" stroke="#3b3b9c"/>
<circle cx="456.50" cy="136.60" r="1.5" stroke="#e2232b"/>
<circle cx="456.50" cy="158.60" r="1.5" stroke="#e2232b"/>
<circle cx="456.50" cy="162.70" r="1.5" stroke="#e2232b"/>
<circle cx="456.50" cy="172.90" r="1.5" stroke="#e2232b"/>
<circle cx="456.50" cy="175.00" r="1.5" stroke="#e2232b"/>
<circle cx="456.50" cy="177.00" r="1.5" stroke="#e2232b"/>
<circle cx="454.60" cy="141.20" r="1.5" stroke="#e2232b"/>
<circle cx="458.40" cy="141.20" r="1.5" stroke="#e2232b"/>
<circle cx="454.20" cy="144.00" r="1.5" stroke="#e2232b"/>
<circle cx="456.50" cy="144.00" r="1.5" stroke="#e2232b"/>
<circle cx="458.80" cy="144.00" r="1.5" stroke="#e2232b"/>
<circle cx="456.50" cy="146.80" r="1.5" stroke="#e2232b"/>
<circle cx="458.80" cy="146.80" r="1.5" stroke="#e2232b"/>
<circle cx="454.20" cy="149.60" r="1.5" stroke="#e2232b"/>
<circle cx="456.50" cy="149.60" r="1.5" stroke="#e2232b"/>
<circle cx="458.80" cy="149.60" r="1.5" stroke="#e2232b"/>
<circle cx="454.20" cy="152.40" r="1.5" stroke="#e2232b"/>
<circle cx="456.50" cy="152.40" r="1.5" stroke="#e2232b"/>
<circle cx="454.30" cy="160.80" r="1.5" stroke="#e2232b"/>
<circle cx="458.70" cy="160.80" r="1.5" stroke="#e2232b"/>
<circle cx="454.30" cy="167.60" r="1.5" stroke="#e2232b"/>
<circle cx="458.70" cy="166.80" r="1.5" stroke="#e2232b"/>
<circle cx="485.20" cy="117.90" r="1.5" stroke="#1e1e1e"/>
<circle cx="485.20" cy="127.00" r="1.5" stroke="#1e1e1e"/>
<circle cx="485.20" cy="142.40" r="1.5" stroke="#1e1e1e"/>
<circle cx="485.20" cy="148.00" r="1.5" stroke="#1e1e1e"/>
<circle cx="485.20" cy="151.10" r="1.5" stroke="#1e1e1e"/>
<circle cx="483.30" cy="136.80" r="1.5" stroke="#1e1e1e"/>
<circle cx="487.30" cy="136.80" r="1.5" stroke="#1e1e1e"/>
<circle cx="483.30" cy="144.20" r="1.5" stroke="#1e1e1e"/>
<circle cx="487.30" cy="144.20" r="1.5" stroke="#1e1e1e"/>
<circle cx="487.30" cy="153.70" r="1.5" stroke="#1e1e1e"/>
<circle cx="483.30" cy="156.70" r="1.5" stroke="#1e1e1e"/>
<circle cx="486.60" cy="158.80" r="1.5" stroke="#1e1e1e"/>
<circle cx="493.40" cy="108.80" r="1.5" stroke="#3b3b9c"/>
<circle cx="497.30" cy="107.80" r="1.5" stroke="#3b3b9c"/>
<circle cx="495.20" cy="123.90" r="1.5" stroke="#3b3b9c"/>
<circle cx="493.20" cy="129.10" r="1.5" stroke="#3b3b9c"/>
<circle cx="497.30" cy="127.50" r="1.5" stroke="#3b3b9c"/>
<circle cx="495.20" cy="133.20" r="1.5" stroke="#3b3b9c"/>
<circle cx="497.50" cy="133.20" r="1.5" stroke="#3b3b9c"/>
<circle cx="492.90" cy="136.10" r="1.5" stroke="#3b3b9c"/>
<circle cx="495.20" cy="136.10" r="1.5" stroke="#3b3b9c"/>
<circle cx="497.50" cy="136.10" r="1.5" stroke="#3b3b9c"/>
<circle cx="492.90" cy="139.00" r="1.5" stroke="#3b3b9c"/>
<circle cx="495.20" cy="139.00" r="1.5" stroke="#3b3b9c"/>
<circle cx="493.30" cy="141.90" r="1.5" stroke="#3b3b9c"/>
<circle cx="497.10" cy="141.90" r="1.5" stroke="#3b3b9c"/>
<circle cx="492.90" cy="147.00" r="1.5" stroke="#3b3b9c"/>
<circle cx="495.20" cy="147.00" r="1.5" stroke="#3b3b9c"/>
<circle cx="492.90" cy="149.38" r="1.5" stroke="#3b3b9c"/>
<circle cx="495.20" cy="149.38" r="1.5" stroke="#3b3b9c"/>
<circle cx="497.50" cy="149.38" r="1.5" stroke="#3b3b9c"/>
<circle cx="493.30" cy="151.77" r="1.5" stroke="#3b3b9c"/>
<circle cx="497.10" cy="151.77" r="1.5" stroke="#3b3b9c"/>
<circle cx="492.90" cy="154.15" r="1.5" stroke="#3b3b9c"/>
<circle cx="495.20" cy="154.15" r="1.5" stroke="#3b3b9c"/>
<circle cx="497.50" cy="154.15" r="1.5" stroke="#3b3b9c"/>
<circle cx="493.30" cy="156.53" r="1.5" stroke="#3b3b9c"/>
<circle cx="497.10" cy="156.53" r="1.5" stroke="#3b3b9c"/>
<circle cx="495.20" cy="158.92" r="1.5" stroke="#3b3b9c"/>
<circle cx="497.50" cy="158.92" r="1.5" stroke="#3b3b9c"/>
<circle cx="493.30" cy="161.30" r="1.5" stroke="#3b3b9c"/>
<circle cx="497.10" cy="161.30" r="1.5" stroke="#3b3b9c"/>
<circle cx="493.30" cy="164.90" r="1.5" stroke="#3b3b9c"/>
<circle cx="497.10" cy="164.90" r="1.5" stroke="#3b3b9c"/>
<circle cx="493.30" cy="167.95" r="1.5" stroke="#3b3b9c"/>
<circle cx="497.10" cy="167.95" r="1.5" stroke="#3b3b9c"/>
<circle cx="493.30" cy="171.00" r="1.5" stroke="#3b3b9c"/>
<circle cx="497.10" cy="171.00" r="1.5" stroke="#3b3b9c"/>
<circle cx="495.20" cy="175.70" r="1.5" stroke="#3b3b9c"/>
<circle cx="497.50" cy="177.20" r="1.5" stroke="#3b3b9c"/>
<circle cx="493.30" cy="179.30" r="1.5" stroke="#3b3b9c"/>
<circle cx="495.20" cy="188.80" r="1.5" stroke="#3b3b9c"/>
<circle cx="504.80" cy="100.30" r="1.5" stroke="#e2232b"/>
<circle cx="504.80" cy="103.90" r="1.5" stroke="#e2232b"/>
<circle cx="504.80" cy="149.60" r="1.5" stroke="#e2232b"/>
<circle cx="504.80" cy="151.60" r="1.5" stroke="#e2232b"/>
<circle cx="504.80" cy="158.80" r="1.5" stroke="#e2232b"/>
<circle cx="504.80" cy="162.40" r="1.5" stroke="#e2232b"/>
<circle cx="503.20" cy="106.50" r="1.5" stroke="#e2232b"/>
<circle cx="506.50" cy="106.50" r="1.5" stroke="#e2232b"/>
<circle cx="502.60" cy="108.30" r="1.5" stroke="#e2232b"/>
<circle cx="506.90" cy="108.30" r="1.5" stroke="#e2232b"/>
<circle cx="502.60" cy="124.80" r="1.5" stroke="#e2232b"/>
<circle cx="507.00" cy="124.60" r="1.5" stroke="#e2232b"/>
<circle cx="502.60" cy="127.10" r="1.5" stroke="#e2232b"/>
<circle cx="507.00" cy="127.10" r="1.5" stroke="#e2232b"/>
<circle cx="502.60" cy="129.40" r="1.5" stroke="#e2232b"/>
<circle cx="507.00" cy="129.40" r="1.5" stroke="#e2232b"/>
<circle cx="502.90" cy="133.40" r="1.5" stroke="#e2232b"/>
<circle cx="506.70" cy="133.40" r="1.5" stroke="#e2232b"/>
<circle cx="502.50" cy="135.64" r="1.5" stroke="#e2232b"/>
<circle cx="504.80" cy="135.64" r="1.5" stroke="#e2232b"/>
<circle cx="507.10" cy="135.64" r="1.5" stroke="#e2232b"/>
<circle cx="502.90" cy="137.88" r="1.5" stroke="#e2232b"/>
<circle cx="506.70" cy="137.88" r="1.5" stroke="#e2232b"/>
<circle cx="502.50" cy="140.12" r="1.5" stroke="#e2232b"/>
<circle cx="504.80" cy="140.12" r="1.5" stroke="#e2232b"/>
<circle cx="507.10" cy="140.12" r="1.5" stroke="#e2232b"/>
<circle cx="504.80" cy="142.36" r="1.5" stroke="#e2232b"/>
<circle cx="507.10" cy="142.36" r="1.5" stroke="#e2232b"/>
<circle cx="502.90" cy="144.60" r="1.5" stroke="#e2232b"/>
<circle cx="506.70" cy="144.60" r="1.5" stroke="#e2232b"/>
<circle cx="57.20" cy="338.80" r="1.5" stroke="#1e1e1e"/>
<circle cx="57.20" cy="345.60" r="1.5" stroke="#1e1e1e"/>
<circle cx="57.20" cy="369.20" r="1.5" stroke="#1e1e1e"/>
<circle cx="57.20" cy="399.10" r="1.5" stroke="#1e1e1e"/>
<circle cx="57.20" cy="401.90" r="1.5" stroke="#1e1e1e"/>
<circle cx="57.20" cy="415.60" r="1.5" stroke="#1e1e1e"/>
<circle cx="57.20" cy="417.90" r="1.5" stroke="#1e1e1e"/>
<circle cx="57.20" cy="420.20" r="1.5" stroke="#1e1e1e"/>
<circle cx="57.20" cy="427.10" r="1.5" stroke="#1e1e1e"/>
<circle cx="57.20" cy="432.60" r="1.5" stroke="#1e1e1e"/>
<circle cx="57.20" cy="438.10" r="1.5" stroke="#1e1e1e"/>
<circle cx="57.20" cy="447.80" r="1.5" stroke="#1e1e1e"/>
<circle cx="57.20" cy="451.00" r="1.5" stroke="#1e1e1e"/>
<circle cx="57.20" cy="453.80" r="1.5" stroke="#1e1e1e"/>
<circle cx="57.20" cy="456.50" r="1.5" stroke="#1e1e1e"/>
<circle cx="57.20" cy="459.30" r="1.5" stroke="#1e1e1e"/>
<circle cx="57.20" cy="462.00" r="1.5" stroke="#1e1e1e"/>
<circle cx="55.25" cy="422.60" r="1.5" stroke="#1e1e1e"/>
<circle cx="59.15" cy="422.60" r="1.5" stroke="#1e1e1e"/>
<circle cx="55.25" cy="424.90" r="1.5" stroke="#1e1e1e"/>
<circle cx="59.15" cy="424.90" r="1.5" stroke="#1e1e1e"/>
<circle cx="55.25" cy="435.40" r="1.5" stroke="#1e1e1e"/>
<circle cx="59.15" cy="435.40" r="1.5" stroke="#1e1e1e"/>
<circle cx="55.25" cy="440.40" r="1.5" stroke="#1e1e1e"/>
<circle cx="59.15" cy="440.40" r="1.5" stroke="#1e1e1e"/>
<circle cx="55.25" cy="442.80" r="1.5" stroke="#1e1e1e"/>
<circle cx="59.15" cy="442.80" r="1.5" stroke="#1e1e1e"/>
<circle cx="55.30" cy="449.20" r="1.5" stroke="#1e1e1e"/>
<circle cx="59.20" cy="448.70" r="1.5" stroke="#1e1e1e"/>
<circle cx="67.10" cy="320.50" r="1.5" stroke="#3b3b9c"/>
<circle cx="67.10" cy="354.90" r="1.5" stroke="#3b3b9c"/>
<circle cx="67.10" cy="370.90" r="1.5" stroke="#3b3b9c"/>
<circle cx="67.10" cy="389.80" r="1.5" stroke="#3b3b9c"/>
<circle cx="67.10" cy="402.80" r="1.5" stroke="#3b3b9c"/>
<circle cx="67.10" cy="408.80" r="1.5" stroke="#3b3b9c"/>
<circle cx="67.10" cy="411.50" r="1.5" stroke="#3b3b9c"/>
<circle cx="67.10" cy="457.00" r="1.5" stroke="#3b3b9c"/>
<circle cx="67.10" cy="461.60" r="1.5" stroke="#3b3b9c"/>
<circle cx="67.10" cy="465.70" r="1.5" stroke="#3b3b9c"/>
<circle cx="67.10" cy="474.90" r="1.5" stroke="#3b3b9c"/>
<circle cx="65.20" cy="401.40" r="1.5" stroke="#3b3b9c"/>
<circle cx="69.20" cy="399.10" r="1.5" stroke="#3b3b9c"/>
<circle cx="69.20" cy="404.40" r="1.5" stroke="#3b3b9c"/>
<circle cx="65.20" cy="404.40" r="1.5" stroke="#3b3b9c"/>
<circle cx="69.20" cy="414.70" r="1.5" stroke="#3b3b9c"/>
<circle cx="65.20" cy="416.60" r="1.5" stroke="#3b3b9c"/>
<circle cx="65.20" cy="464.30" r="1.5" stroke="#3b3b9c"/>
<circle cx="69.20" cy="464.30" r="1.5" stroke="#3b3b9c"/>
<circle cx="65.20" cy="467.60" r="1.5" stroke="#3b3b9c"/>
<circle cx="69.20" cy="469.40" r="1.5" stroke="#3b3b9c"/>
<circle cx="65.20" cy="470.40" r="1.5" stroke="#3b3b9c"/>
<circle cx="65.20" cy="482.20" r="1.5" stroke="#3b3b9c"/>
<circle cx="69.20" cy="480.40" r="1.5" stroke="#3b3b9c"/>
<circle cx="67.10" cy="421.60" r="1.5" stroke="#3b3b9c"/>
<circle cx="69.40" cy="421.60" r="1.5" stroke="#3b3b9c"/>
<circle cx="65.20" cy="423.97" r="1.5" stroke="#3b3b9c"/>
<circle cx="69.00" cy="423.97" r="1.5" stroke="#3b3b9c"/>
<circle cx="64.80" cy="426.34" r="1.5" stroke="#3b3b9c"/>
<circle cx="67.10" cy="426.34" r="1.5" stroke="#3b3b9c"/>
<circle cx="64.80" cy="428.71" r="1.5" stroke="#3b3b9c"/>
<circle cx="67.10" cy="428.71" r="1.5" stroke="#3b3b9c"/>
<circle cx="69.40" cy="428.71" r="1.5" stroke="#3b3b9c"/>
<circle cx="65.20" cy="431.08" r="1.5" stroke="#3b3b9c"/>
<circle cx="69.00" cy="431.08" r="1.5" stroke="#3b3b9c"/>
<circle cx="64.80" cy="433.45" r="1.5" stroke="#3b3b9c"/>
<circle cx="67.10" cy="433.45" r="1.5" stroke="#3b3b9c"/>
<circle cx="69.40" cy="433.45" r="1.5" stroke="#3b3b9c"/>
<circle cx="65.20" cy="435.82" r="1.5" stroke="#3b3b9c"/>
<circle cx="69.00" cy="435.82" r="1.5" stroke="#3b3b9c"/>
<circle cx="67.10" cy="438.18" r="1.5" stroke="#3b3b9c"/>
<circle cx="69.40" cy="438.18" r="1.5" stroke="#3b3b9c"/>
<circle cx="65.20" cy="440.55" r="1.5" stroke="#3b3b9c"/>
<circle cx="69.00" cy="440.55" r="1.5" stroke="#3b3b9c"/>
<circle cx="64.80" cy="442.92" r="1.5" stroke="#3b3b9c"/>
<circle cx="67.10" cy="442.92" r="1.5" stroke="#3b3b9c"/>
<circle cx="65.20" cy="445.29" r="1.5" stroke="#3b3b9c"/>
<circle cx="69.00" cy="445.29" r="1.5" stroke="#3b3b9c"/>
<circle cx="64.80" cy="447.66" r="1.5" stroke="#3b3b9c"/>
<circle cx="67.10" cy="447.66" r="1.5" stroke="#3b3b9c"/>
<circle cx="69.40" cy="447.66" r="1.5" stroke="#3b3b9c"/>
<circle cx="67.10" cy="450.03" r="1.5" stroke="#3b3b9c"/>
<circle cx="69.40" cy="450.03" r="1.5" stroke="#3b3b9c"/>
<circle cx="65.20" cy="452.40" r="1.5" stroke="#3b3b9c"/>
<circle cx="69.00" cy="452.40" r="1.5" stroke="#3b3b9c"/>
<circle cx="77.00" cy="381.00" r="1.5" stroke="#e2232b"/>
<circle cx="77.00" cy="383.70" r="1.5" stroke="#e2232b"/>
<circle cx="77.00" cy="390.30" r="1.5" stroke="#e2232b"/>
<circle cx="77.00" cy="399.10" r="1.5" stroke="#e2232b"/>
<circle cx="77.00" cy="401.40" r="1.5" stroke="#e2232b"/>
<circle cx="77.00" cy="407.80" r="1.5" stroke="#e2232b"/>
<circle cx="77.00" cy="412.00" r="1.5" stroke="#e2232b"/>
<circle cx="77.00" cy="417.50" r="1.5" stroke="#e2232b"/>
<circle cx="77.00" cy="422.50" r="1.5" stroke="#e2232b"/>
<circle cx="77.00" cy="428.00" r="1.5" stroke="#e2232b"/>
<circle cx="77.00" cy="432.60" r="1.5" stroke="#e2232b"/>
<circle cx="77.00" cy="437.70" r="1.5" stroke="#e2232b"/>
<circle cx="77.00" cy="442.30" r="1.5" stroke="#e2232b"/>
<circle cx="77.00" cy="450.80" r="1.5" stroke="#e2232b"/>
<circle cx="77.00" cy="469.40" r="1.5" stroke="#e2232b"/>
<circle cx="77.00" cy="475.60" r="1.5" stroke="#e2232b"/>
<circle cx="74.90" cy="397.00" r="1.5" stroke="#e2232b"/>
<circle cx="79.10" cy="395.50" r="1.5" stroke="#e2232b"/>
<circle cx="74.95" cy="410.10" r="1.5" stroke="#e2232b"/>
<circle cx="79.05" cy="410.10" r="1.5" stroke="#e2232b"/>
<circle cx="74.95" cy="420.20" r="1.5" stroke="#e2232b"/>
<circle cx="79.05" cy="420.20" r="1.5" stroke="#e2232b"/>
<circle cx="74.95" cy="425.30" r="1.5" stroke="#e2232b"/>
<circle cx="79.05" cy="425.30" r="1.5" stroke="#e2232b"/>
<circle cx="74.95" cy="430.30" r="1.5" stroke="#e2232b"/>
<circle cx="79.05" cy="430.30" r="1.5" stroke="#e2232b"/>
<circle cx="74.95" cy="440.00" r="1.5" stroke="#e2232b"/>
<circle cx="79.05" cy="440.00" r="1.5" stroke="#e2232b"/>
<circle cx="74.95" cy="444.00" r="1.5" stroke="#e2232b"/>
<circle cx="79.05" cy="444.00" r="1.5" stroke="#e2232b"/>
<circle cx="106.00" cy="332.00" r="1.5" stroke="#1e1e1e"/>
<circle cx="106.00" cy="334.60" r="1.5" stroke="#1e1e1e"/>
<circle cx="106.00" cy="337.20" r="1.5" stroke="#1e1e1e"/>
<circle cx="106.00" cy="345.00" r="1.5" stroke="#1e1e1e"/>
<circle cx="106.00" cy="349.50" r="1.5" stroke="#1e1e1e"/>
<circle cx="106.00" cy="361.90" r="1.5" stroke="#1e1e1e"/>
<circle cx="106.00" cy="388.50" r="1.5" stroke="#1e1e1e"/>
<circle cx="106.00" cy="395.10" r="1.5" stroke="#1e1e1e"/>
<circle cx="106.00" cy="427.20" r="1.5" stroke="#1e1e1e"/>
<circle cx="106.00" cy="437.90" r="1.5" stroke="#1e1e1e"/>
<circle cx="106.00" cy="439.60" r="1.5" stroke="#1e1e1e"/>
<circle cx="106.00" cy="462.10" r="1.5" stroke="#1e1e1e"/>
<circle cx="108.10" cy="391.40" r="1.5" stroke="#1e1e1e"/>
<circle cx="104.00" cy="393.40" r="1.5" stroke="#1e1e1e"/>
<circle cx="108.10" cy="393.80" r="1.5" stroke="#1e1e1e"/>
<circle cx="108.20" cy="404.30" r="1.5" stroke="#1e1e1e"/>
<circle cx="104.20" cy="405.60" r="1.5" stroke="#1e1e1e"/>
<circle cx="108.20" cy="407.50" r="1.5" stroke="#1e1e1e"/>
<circle cx="104.20" cy="408.90" r="1.5" stroke="#1e1e1e"/>
<circle cx="108.20" cy="410.00" r="1.5" stroke="#1e1e1e"/>
<circle cx="104.10" cy="421.50" r="1.5" stroke="#1e1e1e"/>
<circle cx="108.10" cy="421.50" r="1.5" stroke="#1e1e1e"/>
<circle cx="104.10" cy="432.20" r="1.5" stroke="#1e1e1e"/>
<circle cx="108.10" cy="432.20" r="1.5" stroke="#1e1e1e"/>
<circle cx="104.10" cy="444.20" r="1.5" stroke="#1e1e1e"/>
<circle cx="108.10" cy="444.20" r="1.5" stroke="#1e1e1e"/>
<circle cx="104.10" cy="452.30" r="1.5" stroke="#1e1e1e"/>
<circle cx="108.10" cy="452.30" r="1.5" stroke="#1e1e1e"/>
<circle cx="106.10" cy="416.60" r="1.5" stroke="#1e1e1e"/>
<circle cx="116.20" cy="326.20" r="1.5" stroke="#3b3b9c"/>
<circle cx="116.20" cy="381.30" r="1.5" stroke="#3b3b9c"/>
<circle cx="116.20" cy="394.20" r="1.5" stroke="#3b3b9c"/>
<circle cx="116.20" cy="397.80" r="1.5" stroke="#3b3b9c"/>
<circle cx="116.20" cy="404.70" r="1.5" stroke="#3b3b9c"/>
<circle cx="116.20" cy="407.00" r="1.5" stroke="#3b3b9c"/>
<circle cx="116.20" cy="413.00" r="1.5" stroke="#3b3b9c"/>
<circle cx="116.20" cy="432.70" r="1.5" stroke="#3b3b9c"/>
<circle cx="116.20" cy="439.00" r="1.5" stroke="#3b3b9c"/>
<circle cx="116.20" cy="444.00" r="1.5" stroke="#3b3b9c"/>
<circle cx="116.20" cy="470.40" r="1.5" stroke="#3b3b9c"/>
<circle cx="114.20" cy="354.60" r="1.5" stroke="#3b3b9c"/>
<circle cx="118.20" cy="354.60" r="1.5" stroke="#3b3b9c"/>
<circle cx="114.20" cy="392.00" r="1.5" stroke="#3b3b9c"/>
<circle cx="118.20" cy="392.00" r="1.5" stroke="#3b3b9c"/>
<circle cx="114.20" cy="396.20" r="1.5" stroke="#3b3b9c"/>
<circle cx="118.20" cy="396.20" r="1.5" stroke="#3b3b9c"/>
<circle cx="114.20" cy="411.60" r="1.5" stroke="#3b3b9c"/>
<circle cx="118.20" cy="411.60" r="1.5" stroke="#3b3b9c"/>
<circle cx="114.20" cy="414.40" r="1.5" stroke="#3b3b9c"/>
<circle cx="118.20" cy="414.40" r="1.5" stroke="#3b3b9c"/>
<circle cx="114.20" cy="420.30" r="1.5" stroke="#3b3b9c"/>
<circle cx="118.20" cy="420.30" r="1.5" stroke="#3b3b9c"/>
<circle cx="114.20" cy="422.20" r="1.5" stroke="#3b3b9c"/>
<circle cx="118.20" cy="422.20" r="1.5" stroke="#3b3b9c"/>
<circle cx="114.20" cy="430.90" r="1.5" stroke="#3b3b9c"/>
<circle cx="118.20" cy="430.90" r="1.5" stroke="#3b3b9c"/>
<circle cx="114.20" cy="441.90" r="1.5" stroke="#3b3b9c"/>
<circle cx="118.20" cy="441.90" r="1.5" stroke="#3b3b9c"/>
<circle cx="114.20" cy="473.10" r="1.5" stroke="#3b3b9c"/>
<circle cx="118.20" cy="473.10" r="1.5" stroke="#3b3b9c"/>
<circle cx="118.20" cy="366.90" r="1.5" stroke="#3b3b9c"/>
<circle cx="114.20" cy="369.80" r="1.5" stroke="#3b3b9c"/>
<circle cx="114.20" cy="482.50" r="1.5" stroke="#3b3b9c"/>
<circle cx="118.20" cy="481.40" r="1.5" stroke="#3b3b9c"/>
<circle cx="116.20" cy="428.30" r="1.5" stroke="#3b3b9c"/>
<circle cx="116.20" cy="435.20" r="1.5" stroke="#3b3b9c"/>
<circle cx="116.20" cy="447.30" r="1.5" stroke="#3b3b9c"/>
<circle cx="118.50" cy="447.30" r="1.5" stroke="#3b3b9c"/>
<circle cx="113.90" cy="449.62" r="1.5" stroke="#3b3b9c"/>
<circle cx="116.20" cy="449.62" r="1.5" stroke="#3b3b9c"/>
<circle cx="118.50" cy="449.62" r="1.5" stroke="#3b3b9c"/>
<circle cx="113.90" cy="451.95" r="1.5" stroke="#3b3b9c"/>
<circle cx="116.20" cy="451.95" r="1.5" stroke="#3b3b9c"/>
<circle cx="114.30" cy="454.28" r="1.5" stroke="#3b3b9c"/>
<circle cx="118.10" cy="454.28" r="1.5" stroke="#3b3b9c"/>
<circle cx="113.90" cy="456.60" r="1.5" stroke="#3b3b9c"/>
<circle cx="116.20" cy="456.60" r="1.5" stroke="#3b3b9c"/>
<circle cx="118.50" cy="456.60" r="1.5" stroke="#3b3b9c"/>
<circle cx="125.60" cy="364.00" r="1.5" stroke="#e2232b"/>
<circle cx="125.60" cy="384.00" r="1.5" stroke="#e2232b"/>
<circle cx="125.60" cy="409.30" r="1.5" stroke="#e2232b"/>
<circle cx="125.60" cy="414.40" r="1.5" stroke="#e2232b"/>
<circle cx="125.60" cy="418.90" r="1.5" stroke="#e2232b"/>
<circle cx="125.60" cy="441.80" r="1.5" stroke="#e2232b"/>
<circle cx="125.60" cy="448.90" r="1.5" stroke="#e2232b"/>
<circle cx="125.60" cy="468.70" r="1.5" stroke="#e2232b"/>
<circle cx="123.30" cy="379.20" r="1.5" stroke="#e2232b"/>
<circle cx="127.30" cy="377.20" r="1.5" stroke="#e2232b"/>
<circle cx="123.70" cy="386.20" r="1.5" stroke="#e2232b"/>
<circle cx="127.50" cy="386.20" r="1.5" stroke="#e2232b"/>
<circle cx="123.70" cy="388.60" r="1.5" stroke="#e2232b"/>
<circle cx="127.50" cy="388.60" r="1.5" stroke="#e2232b"/>
<circle cx="123.70" cy="399.90" r="1.5" stroke="#e2232b"/>
<circle cx="127.50" cy="399.90" r="1.5" stroke="#e2232b"/>
<circle cx="127.30" cy="404.70" r="1.5" stroke="#e2232b"/>
<circle cx="123.80" cy="407.90" r="1.5" stroke="#e2232b"/>
<circle cx="127.60" cy="406.60" r="1.5" stroke="#e2232b"/>
<circle cx="127.60" cy="411.60" r="1.5" stroke="#e2232b"/>
<circle cx="123.80" cy="412.50" r="1.5" stroke="#e2232b"/>
<circle cx="123.80" cy="416.20" r="1.5" stroke="#e2232b"/>
<circle cx="127.60" cy="416.70" r="1.5" stroke="#e2232b"/>
<circle cx="123.80" cy="428.10" r="1.5" stroke="#e2232b"/>
<circle cx="127.60" cy="426.70" r="1.5" stroke="#e2232b"/>
<circle cx="155.00" cy="339.40" r="1.5" stroke="#1e1e1e"/>
<circle cx="155.00" cy="346.20" r="1.5" stroke="#1e1e1e"/>
<circle cx="155.00" cy="372.00" r="1.5" stroke="#1e1e1e"/>
<circle cx="155.00" cy="401.90" r="1.5" stroke="#1e1e1e"/>
<circle cx="155.00" cy="406.90" r="1.5" stroke="#1e1e1e"/>
<circle cx="155.00" cy="415.60" r="1.5" stroke="#1e1e1e"/>
<circle cx="155.00" cy="423.40" r="1.5" stroke="#1e1e1e"/>
<circle cx="155.00" cy="430.80" r="1.5" stroke="#1e1e1e"/>
<circle cx="155.00" cy="447.90" r="1.5" stroke="#1e1e1e"/>
<circle cx="155.00" cy="452.00" r="1.5" stroke="#1e1e1e"/>
<circle cx="155.00" cy="455.00" r="1.5" stroke="#1e1e1e"/>
<circle cx="155.00" cy="461.20" r="1.5" stroke="#1e1e1e"/>
<circle cx="153.00" cy="422.50" r="1.5" stroke="#1e1e1e"/>
<circle cx="157.00" cy="421.10" r="1.5" stroke="#1e1e1e"/>
<circle cx="153.00" cy="429.20" r="1.5" stroke="#1e1e1e"/>
<circle cx="157.00" cy="429.20" r="1.5" stroke="#1e1e1e"/>
<circle cx="153.00" cy="433.70" r="1.5" stroke="#1e1e1e"/>
<circle cx="157.00" cy="433.70" r="1.5" stroke="#1e1e1e"/>
<circle cx="155.00" cy="435.80" r="1.5" stroke="#1e1e1e"/>
<circle cx="157.30" cy="435.80" r="1.5" stroke="#1e1e1e"/>
<circle cx="152.70" cy="438.47" r="1.5" stroke="#1e1e1e"/>
<circle cx="155.00" cy="438.47" r="1.5" stroke="#1e1e1e"/>
<circle cx="157.30" cy="438.47" r="1.5" stroke="#1e1e1e"/>
<circle cx="152.70" cy="441.13" r="1.5" stroke="#1e1e1e"/>
<circle cx="155.00" cy="441.13" r="1.5" stroke="#1e1e1e"/>
<circle cx="153.10" cy="443.80" r="1.5" stroke="#1e1e1e"/>
<circle cx="156.90" cy="443.80" r="1.5" stroke="#1e1e1e"/>
<circle cx="157.00" cy="447.20" r="1.5" stroke="#1e1e1e"/>
<circle cx="153.00" cy="449.40" r="1.5" stroke="#1e1e1e"/>
<circle cx="153.00" cy="459.70" r="1.5" stroke="#1e1e1e"/>
<circle cx="157.00" cy="459.20" r="1.5" stroke="#1e1e1e"/>
<circle cx="153.00" cy="462.90" r="1.5" stroke="#1e1e1e"/>
<circle cx="157.00" cy="462.70" r="1.5" stroke="#1e1e1e"/>
<circle cx="164.20" cy="324.60" r="1.5" stroke="#3b3b9c"/>
<circle cx="164.20" cy="351.50" r="1.5" stroke="#3b3b9c"/>
<circle cx="164.20" cy="380.20" r="1.5" stroke="#3b3b9c"/>
<circle cx="164.20" cy="406.90" r="1.5" stroke="#3b3b9c"/>
<circle cx="164.20" cy="411.10" r="1.5" stroke="#3b3b9c"/>
<circle cx="164.20" cy="448.40" r="1.5" stroke="#3b3b9c"/>
<circle cx="164.20" cy="457.60" r="1.5" stroke="#3b3b9c"/>
<circle cx="164.20" cy="464.80" r="1.5" stroke="#3b3b9c"/>
<circle cx="164.20" cy="470.40" r="1.5" stroke="#3b3b9c"/>
<circle cx="164.20" cy="476.10" r="1.5" stroke="#3b3b9c"/>
<circle cx="164.20" cy="479.10" r="1.5" stroke="#3b3b9c"/>
<circle cx="164.20" cy="482.20" r="1.5" stroke="#3b3b9c"/>
<circle cx="162.15" cy="391.80" r="1.5" stroke="#3b3b9c"/>
<circle cx="166.25" cy="391.80" r="1.5" stroke="#3b3b9c"/>
<circle cx="162.15" cy="403.50" r="1.5" stroke="#3b3b9c"/>
<circle cx="166.25" cy="403.50" r="1.5" stroke="#3b3b9c"/>
<circle cx="162.15" cy="409.00" r="1.5" stroke="#3b3b9c"/>
<circle cx="166.25" cy="409.00" r="1.5" stroke="#3b3b9c"/>
<circle cx="162.15" cy="415.20" r="1.5" stroke="#3b3b9c"/>
<circle cx="166.25" cy="415.20" r="1.5" stroke="#3b3b9c"/>
<circle cx="162.15" cy="423.00" r="1.5" stroke="#3b3b9c"/>
<circle cx="166.25" cy="423.00" r="1.5" stroke="#3b3b9c"/>
<circle cx="162.15" cy="455.60" r="1.5" stroke="#3b3b9c"/>
<circle cx="166.25" cy="455.60" r="1.5" stroke="#3b3b9c"/>
<circle cx="162.15" cy="459.70" r="1.5" stroke="#3b3b9c"/>
<circle cx="166.25" cy="459.70" r="1.5" stroke="#3b3b9c"/>
<circle cx="162.15" cy="462.20" r="1.5" stroke="#3b3b9c"/>
<circle cx="166.25" cy="462.20" r="1.5" stroke="#3b3b9c"/>
<circle cx="162.15" cy="468.90" r="1.5" stroke="#3b3b9c"/>
<circle cx="166.25" cy="468.90" r="1.5" stroke="#3b3b9c"/>
<circle cx="162.30" cy="429.00" r="1.5" stroke="#3b3b9c"/>
<circle cx="166.10" cy="429.00" r="1.5" stroke="#3b3b9c"/>
<circle cx="164.20" cy="431.72" r="1.5" stroke="#3b3b9c"/>
<circle cx="166.50" cy="431.72" r="1.5" stroke="#3b3b9c"/>
<circle cx="161.90" cy="434.43" r="1.5" stroke="#3b3b9c"/>
<circle cx="164.20" cy="434.43" r="1.5" stroke="#3b3b9c"/>
<circle cx="166.50" cy="434.43" r="1.5" stroke="#3b3b9c"/>
<circle cx="161.90" cy="437.15" r="1.5" stroke="#3b3b9c"/>
<circle cx="164.20" cy="437.15" r="1.5" stroke="#3b3b9c"/>
<circle cx="162.30" cy="439.87" r="1.5" stroke="#3b3b9c"/>
<circle cx="166.10" cy="439.87" r="1.5" stroke="#3b3b9c"/>
<circle cx="161.90" cy="442.58" r="1.5" stroke="#3b3b9c"/>
<circle cx="164.20" cy="442.58" r="1.5" stroke="#3b3b9c"/>
<circle cx="166.50" cy="442.58" r="1.5" stroke="#3b3b9c"/>
<circle cx="162.30" cy="445.30" r="1.5" stroke="#3b3b9c"/>
<circle cx="166.10" cy="445.30" r="1.5" stroke="#3b3b9c"/>
<circle cx="174.20" cy="395.00" r="1.5" stroke="#e2232b"/>
<circle cx="174.20" cy="401.40" r="1.5" stroke="#e2232b"/>
<circle cx="174.20" cy="408.80" r="1.5" stroke="#e2232b"/>
<circle cx="174.20" cy="412.00" r="1.5" stroke="#e2232b"/>
<circle cx="174.20" cy="427.60" r="1.5" stroke="#e2232b"/>
<circle cx="174.20" cy="432.60" r="1.5" stroke="#e2232b"/>
<circle cx="174.20" cy="436.70" r="1.5" stroke="#e2232b"/>
<circle cx="174.20" cy="441.20" r="1.5" stroke="#e2232b"/>
<circle cx="174.20" cy="444.30" r="1.5" stroke="#e2232b"/>
<circle cx="174.20" cy="450.40" r="1.5" stroke="#e2232b"/>
<circle cx="174.20" cy="454.50" r="1.5" stroke="#e2232b"/>
<circle cx="174.20" cy="470.90" r="1.5" stroke="#e2232b"/>
<circle cx="174.20" cy="473.50" r="1.5" stroke="#e2232b"/>
<circle cx="174.20" cy="476.10" r="1.5" stroke="#e2232b"/>
<circle cx="172.10" cy="382.20" r="1.5" stroke="#e2232b"/>
<circle cx="176.30" cy="381.50" r="1.5" stroke="#e2232b"/>
<circle cx="172.10" cy="394.80" r="1.5" stroke="#e2232b"/>
<circle cx="176.30" cy="393.10" r="1.5" stroke="#e2232b"/>
<circle cx="176.30" cy="421.10" r="1.5" stroke="#e2232b"/>
<circle cx="172.10" cy="423.40" r="1.5" stroke="#e2232b"/>
<circle cx="172.10" cy="406.90" r="1.5" stroke="#e2232b"/>
<circle cx="176.30" cy="406.90" r="1.5" stroke="#e2232b"/>
<circle cx="172.10" cy="410.60" r="1.5" stroke="#e2232b"/>
<circle cx="176.30" cy="410.60" r="1.5" stroke="#e2232b"/>
<circle cx="172.10" cy="431.20" r="1.5" stroke="#e2232b"/>
<circle cx="176.30" cy="431.20" r="1.5" stroke="#e2232b"/>
<circle cx="172.10" cy="435.40" r="1.5" stroke="#e2232b"/>
<circle cx="176.30" cy="435.40" r="1.5" stroke="#e2232b"/>
<circle cx="172.10" cy="438.80" r="1.5" stroke="#e2232b"/>
<circle cx="176.30" cy="438.80" r="1.5" stroke="#e2232b"/>
<circle cx="222.80" cy="448.10" r="1.5" stroke="#1e1e1e"/>
<circle cx="222.80" cy="455.20" r="1.5" stroke="#1e1e1e"/>
<circle cx="222.80" cy="466.70" r="1.5" stroke="#1e1e1e"/>
<circle cx="220.80" cy="458.60" r="1.5" stroke="#1e1e1e"/>
<circle cx="224.80" cy="458.10" r="1.5" stroke="#1e1e1e"/>
<circle cx="221.00" cy="460.70" r="1.5" stroke="#1e1e1e"/>
<circle cx="224.60" cy="460.20" r="1.5" stroke="#1e1e1e"/>
<circle cx="220.90" cy="468.80" r="1.5" stroke="#1e1e1e"/>
<circle cx="224.70" cy="468.80" r="1.5" stroke="#1e1e1e"/>
<circle cx="222.80" cy="470.93" r="1.5" stroke="#1e1e1e"/>
<circle cx="225.10" cy="470.93" r="1.5" stroke="#1e1e1e"/>
<circle cx="220.50" cy="473.07" r="1.5" stroke="#1e1e1e"/>
<circle cx="222.80" cy="473.07" r="1.5" stroke="#1e1e1e"/>
<circle cx="225.10" cy="473.07" r="1.5" stroke="#1e1e1e"/>
<circle cx="220.50" cy="475.20" r="1.5" stroke="#1e1e1e"/>
<circle cx="222.80" cy="475.20" r="1.5" stroke="#1e1e1e"/>
<circle cx="220.50" cy="477.33" r="1.5" stroke="#1e1e1e"/>
<circle cx="222.80" cy="477.33" r="1.5" stroke="#1e1e1e"/>
<circle cx="225.10" cy="477.33" r="1.5" stroke="#1e1e1e"/>
<circle cx="220.90" cy="479.47" r="1.5" stroke="#1e1e1e"/>
<circle cx="224.70" cy="479.47" r="1.5" stroke="#1e1e1e"/>
<circle cx="220.50" cy="481.60" r="1.5" stroke="#1e1e1e"/>
<circle cx="222.80" cy="481.60" r="1.5" stroke="#1e1e1e"/>
<circle cx="225.10" cy="481.60" r="1.5" stroke="#1e1e1e"/>
<circle cx="220.90" cy="483.73" r="1.5" stroke="#1e1e1e"/>
<circle cx="224.70" cy="483.73" r="1.5" stroke="#1e1e1e"/>
<circle cx="222.80" cy="485.87" r="1.5" stroke="#1e1e1e"/>
<circle cx="225.10" cy="485.87" r="1.5" stroke="#1e1e1e"/>
<circle cx="220.50" cy="488.00" r="1.5" stroke="#1e1e1e"/>
<circle cx="222.80" cy="488.00" r="1.5" stroke="#1e1e1e"/>
<circle cx="225.10" cy="488.00" r="1.5" stroke="#1e1e1e"/>
<circle cx="232.50" cy="469.20" r="1.5" stroke="#3b3b9c"/>
<circle cx="232.50" cy="477.60" r="1.5" stroke="#3b3b9c"/>
<circle cx="232.50" cy="485.20" r="1.5" stroke="#3b3b9c"/>
<circle cx="230.80" cy="465.90" r="1.5" stroke="#3b3b9c"/>
<circle cx="234.50" cy="464.30" r="1.5" stroke="#3b3b9c"/>
<circle cx="230.80" cy="476.20" r="1.5" stroke="#3b3b9c"/>
<circle cx="234.50" cy="475.70" r="1.5" stroke="#3b3b9c"/>
<circle cx="234.50" cy="480.00" r="1.5" stroke="#3b3b9c"/>
<circle cx="230.80" cy="482.40" r="1.5" stroke="#3b3b9c"/>
<circle cx="234.50" cy="482.90" r="1.5" stroke="#3b3b9c"/>
<circle cx="230.80" cy="486.40" r="1.5" stroke="#3b3b9c"/>
<circle cx="234.50" cy="486.40" r="1.5" stroke="#3b3b9c"/>
<circle cx="242.20" cy="465.20" r="1.5" stroke="#e2232b"/>
<circle cx="242.20" cy="472.60" r="1.5" stroke="#e2232b"/>
<circle cx="240.20" cy="471.00" r="1.5" stroke="#e2232b"/>
<circle cx="244.20" cy="471.00" r="1.5" stroke="#e2232b"/>
<circle cx="240.20" cy="476.70" r="1.5" stroke="#e2232b"/>
<circle cx="244.20" cy="476.70" r="1.5" stroke="#e2232b"/>
<circle cx="240.20" cy="479.20" r="1.5" stroke="#e2232b"/>
<circle cx="244.20" cy="479.20" r="1.5" stroke="#e2232b"/>
<circle cx="271.00" cy="394.60" r="1.5" stroke="#1e1e1e"/>
<circle cx="271.00" cy="398.70" r="1.5" stroke="#1e1e1e"/>
<circle cx="271.00" cy="463.00" r="1.5" stroke="#1e1e1e"/>
<circle cx="271.00" cy="475.60" r="1.5" stroke="#1e1e1e"/>
<circle cx="269.00" cy="401.40" r="1.5" stroke="#1e1e1e"/>
<circle cx="273.00" cy="401.40" r="1.5" stroke="#1e1e1e"/>
<circle cx="271.00" cy="406.90" r="1.5" stroke="#1e1e1e"/>
<circle cx="271.00" cy="409.19" r="1.5" stroke="#1e1e1e"/>
<circle cx="273.30" cy="409.19" r="1.5" stroke="#1e1e1e"/>
<circle cx="269.10" cy="411.47" r="1.5" stroke="#1e1e1e"/>
<circle cx="272.90" cy="411.47" r="1.5" stroke="#1e1e1e"/>
<circle cx="268.70" cy="413.76" r="1.5" stroke="#1e1e1e"/>
<circle cx="271.00" cy="413.76" r="1.5" stroke="#1e1e1e"/>
<circle cx="269.10" cy="416.05" r="1.5" stroke="#1e1e1e"/>
<circle cx="272.90" cy="416.05" r="1.5" stroke="#1e1e1e"/>
<circle cx="271.00" cy="418.33" r="1.5" stroke="#1e1e1e"/>
<circle cx="273.30" cy="418.33" r="1.5" stroke="#1e1e1e"/>
<circle cx="269.10" cy="420.62" r="1.5" stroke="#1e1e1e"/>
<circle cx="272.90" cy="420.62" r="1.5" stroke="#1e1e1e"/>
<circle cx="268.70" cy="422.91" r="1.5" stroke="#1e1e1e"/>
<circle cx="271.00" cy="422.91" r="1.5" stroke="#1e1e1e"/>
<circle cx="269.10" cy="425.20" r="1.5" stroke="#1e1e1e"/>
<circle cx="272.90" cy="425.20" r="1.5" stroke="#1e1e1e"/>
<circle cx="269.80" cy="427.48" r="1.5" stroke="#1e1e1e"/>
<circle cx="272.20" cy="427.48" r="1.5" stroke="#1e1e1e"/>
<circle cx="269.10" cy="429.77" r="1.5" stroke="#1e1e1e"/>
<circle cx="272.90" cy="429.77" r="1.5" stroke="#1e1e1e"/>
<circle cx="271.00" cy="432.06" r="1.5" stroke="#1e1e1e"/>
<circle cx="273.30" cy="432.06" r="1.5" stroke="#1e1e1e"/>
<circle cx="269.10" cy="434.34" r="1.5" stroke="#1e1e1e"/>
<circle cx="272.90" cy="434.34" r="1.5" stroke="#1e1e1e"/>
<circle cx="268.70" cy="436.63" r="1.5" stroke="#1e1e1e"/>
<circle cx="271.00" cy="436.63" r="1.5" stroke="#1e1e1e"/>
<circle cx="269.10" cy="438.92" r="1.5" stroke="#1e1e1e"/>
<circle cx="272.90" cy="438.92" r="1.5" stroke="#1e1e1e"/>
<circle cx="271.00" cy="441.20" r="1.5" stroke="#1e1e1e"/>
<circle cx="273.30" cy="441.20" r="1.5" stroke="#1e1e1e"/>
<circle cx="269.10" cy="443.49" r="1.5" stroke="#1e1e1e"/>
<circle cx="272.90" cy="443.49" r="1.5" stroke="#1e1e1e"/>
<circle cx="268.70" cy="445.78" r="1.5" stroke="#1e1e1e"/>
<circle cx="271.00" cy="445.78" r="1.5" stroke="#1e1e1e"/>
<circle cx="269.10" cy="448.07" r="1.5" stroke="#1e1e1e"/>
<circle cx="272.90" cy="448.07" r="1.5" stroke="#1e1e1e"/>
<circle cx="271.00" cy="450.35" r="1.5" stroke="#1e1e1e"/>
<circle cx="273.30" cy="450.35" r="1.5" stroke="#1e1e1e"/>
<circle cx="271.00" cy="452.64" r="1.5" stroke="#1e1e1e"/>
<circle cx="268.70" cy="454.93" r="1.5" stroke="#1e1e1e"/>
<circle cx="271.00" cy="454.93" r="1.5" stroke="#1e1e1e"/>
<circle cx="269.10" cy="457.21" r="1.5" stroke="#1e1e1e"/>
<circle cx="272.90" cy="457.21" r="1.5" stroke="#1e1e1e"/>
<circle cx="271.00" cy="459.50" r="1.5" stroke="#1e1e1e"/>
<circle cx="273.30" cy="459.50" r="1.5" stroke="#1e1e1e"/>
<circle cx="281.20" cy="401.00" r="1.5" stroke="#3b3b9c"/>
<circle cx="281.20" cy="438.80" r="1.5" stroke="#3b3b9c"/>
<circle cx="281.20" cy="443.20" r="1.5" stroke="#3b3b9c"/>
<circle cx="281.20" cy="457.50" r="1.5" stroke="#3b3b9c"/>
<circle cx="281.20" cy="462.40" r="1.5" stroke="#3b3b9c"/>
<circle cx="281.20" cy="474.50" r="1.5" stroke="#3b3b9c"/>
<circle cx="279.20" cy="441.00" r="1.5" stroke="#3b3b9c"/>
<circle cx="283.20" cy="439.90" r="1.5" stroke="#3b3b9c"/>
<circle cx="279.20" cy="467.90" r="1.5" stroke="#3b3b9c"/>
<circle cx="283.20" cy="467.90" r="1.5" stroke="#3b3b9c"/>
<circle cx="290.90" cy="393.50" r="1.5" stroke="#e2232b"/>
<circle cx="290.90" cy="405.60" r="1.5" stroke="#e2232b"/>
<circle cx="290.90" cy="412.90" r="1.5" stroke="#e2232b"/>
<circle cx="290.90" cy="433.00" r="1.5" stroke="#e2232b"/>
<circle cx="289.50" cy="444.30" r="1.5" stroke="#e2232b"/>
<circle cx="292.50" cy="445.90" r="1.5" stroke="#e2232b"/>
<circle cx="320.10" cy="371.00" r="1.5" stroke="#1e1e1e"/>
<circle cx="320.10" cy="376.50" r="1.5" stroke="#1e1e1e"/>
<circle cx="320.10" cy="386.40" r="1.5" stroke="#1e1e1e"/>
<circle cx="320.10" cy="400.10" r="1.5" stroke="#1e1e1e"/>
<circle cx="320.10" cy="402.90" r="1.5" stroke="#1e1e1e"/>
<circle cx="320.10" cy="410.50" r="1.5" stroke="#1e1e1e"/>
<circle cx="320.10" cy="412.70" r="1.5" stroke="#1e1e1e"/>
<circle cx="320.10" cy="418.60" r="1.5" stroke="#1e1e1e"/>
<circle cx="320.10" cy="430.30" r="1.5" stroke="#1e1e1e"/>
<circle cx="320.10" cy="472.80" r="1.5" stroke="#1e1e1e"/>
<circle cx="318.00" cy="405.60" r="1.5" stroke="#1e1e1e"/>
<circle cx="322.20" cy="405.60" r="1.5" stroke="#1e1e1e"/>
<circle cx="318.00" cy="425.00" r="1.5" stroke="#1e1e1e"/>
<circle cx="322.20" cy="425.00" r="1.5" stroke="#1e1e1e"/>
<circle cx="320.10" cy="432.00" r="1.5" stroke="#1e1e1e"/>
<circle cx="322.40" cy="432.00" r="1.5" stroke="#1e1e1e"/>
<circle cx="318.20" cy="434.25" r="1.5" stroke="#1e1e1e"/>
<circle cx="322.00" cy="434.25" r="1.5" stroke="#1e1e1e"/>
<circle cx="317.80" cy="436.50" r="1.5" stroke="#1e1e1e"/>
<circle cx="320.10" cy="436.50" r="1.5" stroke="#1e1e1e"/>
<circle cx="318.20" cy="438.75" r="1.5" stroke="#1e1e1e"/>
<circle cx="322.00" cy="438.75" r="1.5" stroke="#1e1e1e"/>
<circle cx="320.10" cy="441.00" r="1.5" stroke="#1e1e1e"/>
<circle cx="322.40" cy="441.00" r="1.5" stroke="#1e1e1e"/>
<circle cx="317.80" cy="443.25" r="1.5" stroke="#1e1e1e"/>
<circle cx="320.10" cy="443.25" r="1.5" stroke="#1e1e1e"/>
<circle cx="322.40" cy="443.25" r="1.5" stroke="#1e1e1e"/>
<circle cx="317.80" cy="445.50" r="1.5" stroke="#1e1e1e"/>
<circle cx="320.10" cy="445.50" r="1.5" stroke="#1e1e1e"/>
<circle cx="322.40" cy="445.50" r="1.5" stroke="#1e1e1e"/>
<circle cx="318.20" cy="447.75" r="1.5" stroke="#1e1e1e"/>
<circle cx="322.00" cy="447.75" r="1.5" stroke="#1e1e1e"/>
<circle cx="317.80" cy="450.00" r="1.5" stroke="#1e1e1e"/>
<circle cx="320.10" cy="450.00" r="1.5" stroke="#1e1e1e"/>
<circle cx="322.40" cy="450.00" r="1.5" stroke="#1e1e1e"/>
<circle cx="317.80" cy="452.25" r="1.5" stroke="#1e1e1e"/>
<circle cx="320.10" cy="452.25" r="1.5" stroke="#1e1e1e"/>
<circle cx="318.20" cy="454.50" r="1.5" stroke="#1e1e1e"/>
<circle cx="322.00" cy="454.50" r="1.5" stroke="#1e1e1e"/>
<circle cx="320.10" cy="456.75" r="1.5" stroke="#1e1e1e"/>
<circle cx="322.40" cy="456.75" r="1.5" stroke="#1e1e1e"/>
<circle cx="318.20" cy="459.00" r="1.5" stroke="#1e1e1e"/>
<circle cx="322.00" cy="459.00" r="1.5" stroke="#1e1e1e"/>
<circle cx="317.80" cy="461.25" r="1.5" stroke="#1e1e1e"/>
<circle cx="320.10" cy="461.25" r="1.5" stroke="#1e1e1e"/>
<circle cx="318.20" cy="463.50" r="1.5" stroke="#1e1e1e"/>
<circle cx="322.00" cy="463.50" r="1.5" stroke="#1e1e1e"/>
<circle cx="320.10" cy="465.75" r="1.5" stroke="#1e1e1e"/>
<circle cx="322.40" cy="465.75" r="1.5" stroke="#1e1e1e"/>
<circle cx="318.20" cy="468.00" r="1.5" stroke="#1e1e1e"/>
<circle cx="322.00" cy="468.00" r="1.5" stroke="#1e1e1e"/>
<circle cx="329.80" cy="396.80" r="1.5" stroke="#3b3b9c"/>
<circle cx="329.80" cy="410.00" r="1.5" stroke="#3b3b9c"/>
<circle cx="329.80" cy="447.20" r="1.5" stroke="#3b3b9c"/>
<circle cx="329.80" cy="453.30" r="1.5" stroke="#3b3b9c"/>
<circle cx="329.80" cy="462.00" r="1.5" stroke="#3b3b9c"/>
<circle cx="329.80" cy="469.20" r="1.5" stroke="#3b3b9c"/>
<circle cx="327.80" cy="443.40" r="1.5" stroke="#3b3b9c"/>
<circle cx="331.80" cy="443.40" r="1.5" stroke="#3b3b9c"/>
<circle cx="327.80" cy="464.00" r="1.5" stroke="#3b3b9c"/>
<circle cx="331.80" cy="464.00" r="1.5" stroke="#3b3b9c"/>
<circle cx="339.40" cy="399.60" r="1.5" stroke="#e2232b"/>
<circle cx="339.40" cy="424.10" r="1.5" stroke="#e2232b"/>
<circle cx="339.40" cy="436.40" r="1.5" stroke="#e2232b"/>
<circle cx="339.40" cy="443.10" r="1.5" stroke="#e2232b"/>
<circle cx="339.40" cy="467.20" r="1.5" stroke="#e2232b"/>
<circle cx="337.30" cy="456.40" r="1.5" stroke="#e2232b"/>
<circle cx="341.50" cy="454.90" r="1.5" stroke="#e2232b"/>
<circle cx="368.90" cy="338.30" r="1.5" stroke="#1e1e1e"/>
<circle cx="368.90" cy="347.30" r="1.5" stroke="#1e1e1e"/>
<circle cx="368.90" cy="364.90" r="1.5" stroke="#1e1e1e"/>
<circle cx="368.90" cy="371.00" r="1.5" stroke="#1e1e1e"/>
<circle cx="368.90" cy="373.00" r="1.5" stroke="#1e1e1e"/>
<circle cx="368.90" cy="390.90" r="1.5" stroke="#1e1e1e"/>
<circle cx="368.90" cy="443.10" r="1.5" stroke="#1e1e1e"/>
<circle cx="368.90" cy="446.90" r="1.5" stroke="#1e1e1e"/>
<circle cx="368.90" cy="450.10" r="1.5" stroke="#1e1e1e"/>
<circle cx="368.90" cy="461.00" r="1.5" stroke="#1e1e1e"/>
<circle cx="366.50" cy="359.20" r="1.5" stroke="#1e1e1e"/>
<circle cx="371.00" cy="358.20" r="1.5" stroke="#1e1e1e"/>
<circle cx="366.80" cy="374.40" r="1.5" stroke="#1e1e1e"/>
<circle cx="371.00" cy="374.40" r="1.5" stroke="#1e1e1e"/>
<circle cx="366.80" cy="385.10" r="1.5" stroke="#1e1e1e"/>
<circle cx="371.00" cy="385.10" r="1.5" stroke="#1e1e1e"/>
<circle cx="366.80" cy="389.00" r="1.5" stroke="#1e1e1e"/>
<circle cx="371.00" cy="389.00" r="1.5" stroke="#1e1e1e"/>
<circle cx="366.80" cy="399.50" r="1.5" stroke="#1e1e1e"/>
<circle cx="371.00" cy="399.50" r="1.5" stroke="#1e1e1e"/>
<circle cx="366.80" cy="402.00" r="1.5" stroke="#1e1e1e"/>
<circle cx="371.00" cy="402.00" r="1.5" stroke="#1e1e1e"/>
<circle cx="366.80" cy="404.60" r="1.5" stroke="#1e1e1e"/>
<circle cx="371.00" cy="404.60" r="1.5" stroke="#1e1e1e"/>
<circle cx="366.80" cy="436.70" r="1.5" stroke="#1e1e1e"/>
<circle cx="371.00" cy="436.70" r="1.5" stroke="#1e1e1e"/>
<circle cx="366.60" cy="414.50" r="1.5" stroke="#1e1e1e"/>
<circle cx="368.90" cy="414.50" r="1.5" stroke="#1e1e1e"/>
<circle cx="371.20" cy="414.50" r="1.5" stroke="#1e1e1e"/>
<circle cx="368.90" cy="416.88" r="1.5" stroke="#1e1e1e"/>
<circle cx="371.20" cy="416.88" r="1.5" stroke="#1e1e1e"/>
<circle cx="367.00" cy="419.25" r="1.5" stroke="#1e1e1e"/>
<circle cx="370.80" cy="419.25" r="1.5" stroke="#1e1e1e"/>
<circle cx="366.60" cy="421.62" r="1.5" stroke="#1e1e1e"/>
<circle cx="368.90" cy="421.62" r="1.5" stroke="#1e1e1e"/>
<circle cx="367.00" cy="424.00" r="1.5" stroke="#1e1e1e"/>
<circle cx="370.80" cy="424.00" r="1.5" stroke="#1e1e1e"/>
<circle cx="368.90" cy="426.38" r="1.5" stroke="#1e1e1e"/>
<circle cx="371.20" cy="426.38" r="1.5" stroke="#1e1e1e"/>
<circle cx="366.60" cy="428.75" r="1.5" stroke="#1e1e1e"/>
<circle cx="368.90" cy="428.75" r="1.5" stroke="#1e1e1e"/>
<circle cx="371.20" cy="428.75" r="1.5" stroke="#1e1e1e"/>
<circle cx="366.60" cy="431.12" r="1.5" stroke="#1e1e1e"/>
<circle cx="368.90" cy="431.12" r="1.5" stroke="#1e1e1e"/>
<circle cx="367.00" cy="433.50" r="1.5" stroke="#1e1e1e"/>
<circle cx="370.80" cy="433.50" r="1.5" stroke="#1e1e1e"/>
<circle cx="378.50" cy="378.10" r="1.5" stroke="#3b3b9c"/>
<circle cx="378.50" cy="393.20" r="1.5" stroke="#3b3b9c"/>
<circle cx="378.50" cy="405.30" r="1.5" stroke="#3b3b9c"/>
<circle cx="378.50" cy="429.60" r="1.5" stroke="#3b3b9c"/>
<circle cx="378.50" cy="444.40" r="1.5" stroke="#3b3b9c"/>
<circle cx="378.50" cy="450.10" r="1.5" stroke="#3b3b9c"/>
<circle cx="376.50" cy="426.40" r="1.5" stroke="#3b3b9c"/>
<circle cx="380.50" cy="425.10" r="1.5" stroke="#3b3b9c"/>
<circle cx="376.50" cy="443.10" r="1.5" stroke="#3b3b9c"/>
<circle cx="380.50" cy="441.20" r="1.5" stroke="#3b3b9c"/>
<circle cx="388.10" cy="371.70" r="1.5" stroke="#e2232b"/>
<circle cx="388.10" cy="404.00" r="1.5" stroke="#e2232b"/>
<circle cx="388.10" cy="408.50" r="1.5" stroke="#e2232b"/>
<circle cx="388.10" cy="427.70" r="1.5" stroke="#e2232b"/>
<circle cx="388.10" cy="441.80" r="1.5" stroke="#e2232b"/>
<circle cx="386.00" cy="389.00" r="1.5" stroke="#e2232b"/>
<circle cx="390.30" cy="386.40" r="1.5" stroke="#e2232b"/>
<circle cx="436.50" cy="352.70" r="1.5" stroke="#1e1e1e"/>
<circle cx="436.50" cy="364.60" r="1.5" stroke="#1e1e1e"/>
<circle cx="436.50" cy="369.40" r="1.5" stroke="#1e1e1e"/>
<circle cx="436.50" cy="384.70" r="1.5" stroke="#1e1e1e"/>
<circle cx="436.50" cy="398.70" r="1.5" stroke="#1e1e1e"/>
<circle cx="436.50" cy="402.00" r="1.5" stroke="#1e1e1e"/>
<circle cx="436.50" cy="409.60" r="1.5" stroke="#1e1e1e"/>
<circle cx="436.50" cy="412.70" r="1.5" stroke="#1e1e1e"/>
<circle cx="436.50" cy="427.00" r="1.5" stroke="#1e1e1e"/>
<circle cx="436.50" cy="442.30" r="1.5" stroke="#1e1e1e"/>
<circle cx="436.50" cy="450.90" r="1.5" stroke="#1e1e1e"/>
<circle cx="436.50" cy="455.60" r="1.5" stroke="#1e1e1e"/>
<circle cx="436.50" cy="460.90" r="1.5" stroke="#1e1e1e"/>
<circle cx="436.50" cy="463.20" r="1.5" stroke="#1e1e1e"/>
<circle cx="436.50" cy="470.90" r="1.5" stroke="#1e1e1e"/>
<circle cx="436.50" cy="476.10" r="1.5" stroke="#1e1e1e"/>
<circle cx="436.50" cy="479.90" r="1.5" stroke="#1e1e1e"/>
<circle cx="434.40" cy="406.90" r="1.5" stroke="#1e1e1e"/>
<circle cx="438.60" cy="406.90" r="1.5" stroke="#1e1e1e"/>
<circle cx="434.40" cy="452.30" r="1.5" stroke="#1e1e1e"/>
<circle cx="438.60" cy="452.30" r="1.5" stroke="#1e1e1e"/>
<circle cx="434.40" cy="478.00" r="1.5" stroke="#1e1e1e"/>
<circle cx="438.60" cy="478.00" r="1.5" stroke="#1e1e1e"/>
<circle cx="434.30" cy="449.40" r="1.5" stroke="#1e1e1e"/>
<circle cx="438.50" cy="448.50" r="1.5" stroke="#1e1e1e"/>
<circle cx="434.30" cy="463.90" r="1.5" stroke="#1e1e1e"/>
<circle cx="438.50" cy="465.10" r="1.5" stroke="#1e1e1e"/>
<circle cx="446.50" cy="336.90" r="1.5" stroke="#3b3b9c"/>
<circle cx="446.50" cy="412.40" r="1.5" stroke="#3b3b9c"/>
<circle cx="446.50" cy="420.80" r="1.5" stroke="#3b3b9c"/>
<circle cx="446.50" cy="426.10" r="1.5" stroke="#3b3b9c"/>
<circle cx="446.50" cy="433.80" r="1.5" stroke="#3b3b9c"/>
<circle cx="446.50" cy="437.10" r="1.5" stroke="#3b3b9c"/>
<circle cx="446.50" cy="438.00" r="1.5" stroke="#3b3b9c"/>
<circle cx="446.50" cy="445.60" r="1.5" stroke="#3b3b9c"/>
<circle cx="446.50" cy="487.50" r="1.5" stroke="#3b3b9c"/>
<circle cx="444.40" cy="419.00" r="1.5" stroke="#3b3b9c"/>
<circle cx="448.60" cy="419.00" r="1.5" stroke="#3b3b9c"/>
<circle cx="444.40" cy="423.40" r="1.5" stroke="#3b3b9c"/>
<circle cx="448.50" cy="421.70" r="1.5" stroke="#3b3b9c"/>
<circle cx="448.50" cy="441.30" r="1.5" stroke="#3b3b9c"/>
<circle cx="444.50" cy="442.80" r="1.5" stroke="#3b3b9c"/>
<circle cx="444.60" cy="447.50" r="1.5" stroke="#3b3b9c"/>
<circle cx="448.40" cy="447.50" r="1.5" stroke="#3b3b9c"/>
<circle cx="446.50" cy="449.88" r="1.5" stroke="#3b3b9c"/>
<circle cx="448.80" cy="449.88" r="1.5" stroke="#3b3b9c"/>
<circle cx="444.20" cy="452.26" r="1.5" stroke="#3b3b9c"/>
<circle cx="446.50" cy="452.26" r="1.5" stroke="#3b3b9c"/>
<circle cx="448.80" cy="452.26" r="1.5" stroke="#3b3b9c"/>
<circle cx="444.20" cy="454.64" r="1.5" stroke="#3b3b9c"/>
<circle cx="446.50" cy="454.64" r="1.5" stroke="#3b3b9c"/>
<circle cx="444.60" cy="457.02" r="1.5" stroke="#3b3b9c"/>
<circle cx="448.40" cy="457.02" r="1.5" stroke="#3b3b9c"/>
<circle cx="446.50" cy="459.40" r="1.5" stroke="#3b3b9c"/>
<circle cx="448.80" cy="459.40" r="1.5" stroke="#3b3b9c"/>
<circle cx="444.60" cy="461.78" r="1.5" stroke="#3b3b9c"/>
<circle cx="448.40" cy="461.78" r="1.5" stroke="#3b3b9c"/>
<circle cx="444.20" cy="464.16" r="1.5" stroke="#3b3b9c"/>
<circle cx="446.50" cy="464.16" r="1.5" stroke="#3b3b9c"/>
<circle cx="444.60" cy="466.54" r="1.5" stroke="#3b3b9c"/>
<circle cx="448.40" cy="466.54" r="1.5" stroke="#3b3b9c"/>
<circle cx="446.50" cy="468.92" r="1.5" stroke="#3b3b9c"/>
<circle cx="448.80" cy="468.92" r="1.5" stroke="#3b3b9c"/>
<circle cx="444.20" cy="471.30" r="1.5" stroke="#3b3b9c"/>
<circle cx="446.50" cy="471.30" r="1.5" stroke="#3b3b9c"/>
<circle cx="448.80" cy="471.30" r="1.5" stroke="#3b3b9c"/>
<circle cx="444.20" cy="473.68" r="1.5" stroke="#3b3b9c"/>
<circle cx="446.50" cy="473.68" r="1.5" stroke="#3b3b9c"/>
<circle cx="444.60" cy="476.06" r="1.5" stroke="#3b3b9c"/>
<circle cx="448.40" cy="476.06" r="1.5" stroke="#3b3b9c"/>
<circle cx="446.50" cy="478.44" r="1.5" stroke="#3b3b9c"/>
<circle cx="448.80" cy="478.44" r="1.5" stroke="#3b3b9c"/>
<circle cx="444.60" cy="480.82" r="1.5" stroke="#3b3b9c"/>
<circle cx="448.40" cy="480.82" r="1.5" stroke="#3b3b9c"/>
<circle cx="444.20" cy="483.20" r="1.5" stroke="#3b3b9c"/>
<circle cx="446.50" cy="483.20" r="1.5" stroke="#3b3b9c"/>
<circle cx="456.50" cy="350.50" r="1.5" stroke="#e2232b"/>
<circle cx="456.50" cy="389.30" r="1.5" stroke="#e2232b"/>
<circle cx="456.50" cy="400.30" r="1.5" stroke="#e2232b"/>
<circle cx="456.50" cy="406.60" r="1.5" stroke="#e2232b"/>
<circle cx="456.50" cy="420.80" r="1.5" stroke="#e2232b"/>
<circle cx="456.50" cy="437.10" r="1.5" stroke="#e2232b"/>
<circle cx="456.50" cy="440.90" r="1.5" stroke="#e2232b"/>
<circle cx="456.50" cy="445.10" r="1.5" stroke="#e2232b"/>
<circle cx="456.50" cy="449.40" r="1.5" stroke="#e2232b"/>
<circle cx="456.50" cy="460.40" r="1.5" stroke="#e2232b"/>
<circle cx="456.50" cy="465.10" r="1.5" stroke="#e2232b"/>
<circle cx="456.50" cy="472.80" r="1.5" stroke="#e2232b"/>
<circle cx="456.50" cy="476.60" r="1.5" stroke="#e2232b"/>
<circle cx="456.50" cy="481.80" r="1.5" stroke="#e2232b"/>
<circle cx="454.40" cy="434.30" r="1.5" stroke="#e2232b"/>
<circle cx="458.60" cy="433.20" r="1.5" stroke="#e2232b"/>
<circle cx="454.40" cy="458.30" r="1.5" stroke="#e2232b"/>
<circle cx="458.60" cy="458.30" r="1.5" stroke="#e2232b"/>
<circle cx="454.40" cy="462.30" r="1.5" stroke="#e2232b"/>
<circle cx="458.60" cy="462.30" r="1.5" stroke="#e2232b"/>
<circle cx="454.40" cy="470.70" r="1.5" stroke="#e2232b"/>
<circle cx="458.60" cy="470.70" r="1.5" stroke="#e2232b"/>
<circle cx="454.40" cy="474.70" r="1.5" stroke="#e2232b"/>
<circle cx="458.60" cy="474.70" r="1.5" stroke="#e2232b"/>
<circle cx="485.50" cy="343.10" r="1.5" stroke="#1e1e1e"/>
<circle cx="485.50" cy="370.50" r="1.5" stroke="#1e1e1e"/>
<circle cx="485.50" cy="413.40" r="1.5" stroke="#1e1e1e"/>
<circle cx="485.50" cy="416.90" r="1.5" stroke="#1e1e1e"/>
<circle cx="485.50" cy="427.20" r="1.5" stroke="#1e1e1e"/>
<circle cx="485.50" cy="430.60" r="1.5" stroke="#1e1e1e"/>
<circle cx="485.50" cy="436.10" r="1.5" stroke="#1e1e1e"/>
<circle cx="485.50" cy="438.80" r="1.5" stroke="#1e1e1e"/>
<circle cx="485.50" cy="451.20" r="1.5" stroke="#1e1e1e"/>
<circle cx="485.50" cy="456.00" r="1.5" stroke="#1e1e1e"/>
<circle cx="485.50" cy="465.60" r="1.5" stroke="#1e1e1e"/>
<circle cx="485.50" cy="470.40" r="1.5" stroke="#1e1e1e"/>
<circle cx="485.50" cy="475.90" r="1.5" stroke="#1e1e1e"/>
<circle cx="483.50" cy="422.40" r="1.5" stroke="#1e1e1e"/>
<circle cx="487.50" cy="422.40" r="1.5" stroke="#1e1e1e"/>
<circle cx="483.50" cy="433.40" r="1.5" stroke="#1e1e1e"/>
<circle cx="487.50" cy="433.40" r="1.5" stroke="#1e1e1e"/>
<circle cx="483.50" cy="453.30" r="1.5" stroke="#1e1e1e"/>
<circle cx="487.50" cy="453.30" r="1.5" stroke="#1e1e1e"/>
<circle cx="483.50" cy="467.70" r="1.5" stroke="#1e1e1e"/>
<circle cx="487.50" cy="467.70" r="1.5" stroke="#1e1e1e"/>
<circle cx="483.50" cy="448.50" r="1.5" stroke="#1e1e1e"/>
<circle cx="487.50" cy="449.10" r="1.5" stroke="#1e1e1e"/>
<circle cx="483.50" cy="458.10" r="1.5" stroke="#1e1e1e"/>
<circle cx="487.50" cy="458.80" r="1.5" stroke="#1e1e1e"/>
<circle cx="483.50" cy="473.90" r="1.5" stroke="#1e1e1e"/>
<circle cx="487.50" cy="474.60" r="1.5" stroke="#1e1e1e"/>
<circle cx="495.00" cy="341.70" r="1.5" stroke="#3b3b9c"/>
<circle cx="495.00" cy="366.60" r="1.5" stroke="#3b3b9c"/>
<circle cx="495.00" cy="407.20" r="1.5" stroke="#3b3b9c"/>
<circle cx="495.00" cy="421.00" r="1.5" stroke="#3b3b9c"/>
<circle cx="495.00" cy="425.80" r="1.5" stroke="#3b3b9c"/>
<circle cx="495.00" cy="433.40" r="1.5" stroke="#3b3b9c"/>
<circle cx="495.00" cy="438.20" r="1.5" stroke="#3b3b9c"/>
<circle cx="493.20" cy="396.90" r="1.5" stroke="#3b3b9c"/>
<circle cx="497.20" cy="395.00" r="1.5" stroke="#3b3b9c"/>
<circle cx="493.20" cy="401.90" r="1.5" stroke="#3b3b9c"/>
<circle cx="497.20" cy="401.00" r="1.5" stroke="#3b3b9c"/>
<circle cx="493.00" cy="423.70" r="1.5" stroke="#3b3b9c"/>
<circle cx="497.00" cy="423.70" r="1.5" stroke="#3b3b9c"/>
<circle cx="493.00" cy="427.90" r="1.5" stroke="#3b3b9c"/>
<circle cx="497.00" cy="427.90" r="1.5" stroke="#3b3b9c"/>
<circle cx="493.00" cy="435.40" r="1.5" stroke="#3b3b9c"/>
<circle cx="497.00" cy="435.40" r="1.5" stroke="#3b3b9c"/>
<circle cx="493.10" cy="445.00" r="1.5" stroke="#3b3b9c"/>
<circle cx="496.90" cy="445.00" r="1.5" stroke="#3b3b9c"/>
<circle cx="495.00" cy="447.43" r="1.5" stroke="#3b3b9c"/>
<circle cx="497.30" cy="447.43" r="1.5" stroke="#3b3b9c"/>
<circle cx="492.70" cy="449.85" r="1.5" stroke="#3b3b9c"/>
<circle cx="495.00" cy="449.85" r="1.5" stroke="#3b3b9c"/>
<circle cx="497.30" cy="449.85" r="1.5" stroke="#3b3b9c"/>
<circle cx="492.70" cy="452.28" r="1.5" stroke="#3b3b9c"/>
<circle cx="495.00" cy="452.28" r="1.5" stroke="#3b3b9c"/>
<circle cx="493.10" cy="454.71" r="1.5" stroke="#3b3b9c"/>
<circle cx="496.90" cy="454.71" r="1.5" stroke="#3b3b9c"/>
<circle cx="492.70" cy="457.13" r="1.5" stroke="#3b3b9c"/>
<circle cx="495.00" cy="457.13" r="1.5" stroke="#3b3b9c"/>
<circle cx="497.30" cy="457.13" r="1.5" stroke="#3b3b9c"/>
<circle cx="495.00" cy="459.56" r="1.5" stroke="#3b3b9c"/>
<circle cx="497.30" cy="459.56" r="1.5" stroke="#3b3b9c"/>
<circle cx="493.10" cy="461.99" r="1.5" stroke="#3b3b9c"/>
<circle cx="496.90" cy="461.99" r="1.5" stroke="#3b3b9c"/>
<circle cx="492.70" cy="464.41" r="1.5" stroke="#3b3b9c"/>
<circle cx="495.00" cy="464.41" r="1.5" stroke="#3b3b9c"/>
<circle cx="493.10" cy="466.84" r="1.5" stroke="#3b3b9c"/>
<circle cx="496.90" cy="466.84" r="1.5" stroke="#3b3b9c"/>
<circle cx="495.00" cy="469.27" r="1.5" stroke="#3b3b9c"/>
<circle cx="497.30" cy="469.27" r="1.5" stroke="#3b3b9c"/>
<circle cx="492.70" cy="471.69" r="1.5" stroke="#3b3b9c"/>
<circle cx="495.00" cy="471.69" r="1.5" stroke="#3b3b9c"/>
<circle cx="497.30" cy="471.69" r="1.5" stroke="#3b3b9c"/>
<circle cx="492.70" cy="474.12" r="1.5" stroke="#3b3b9c"/>
<circle cx="495.00" cy="474.12" r="1.5" stroke="#3b3b9c"/>
<circle cx="493.10" cy="476.55" r="1.5" stroke="#3b3b9c"/>
<circle cx="496.90" cy="476.55" r="1.5" stroke="#3b3b9c"/>
<circle cx="495.00" cy="478.97" r="1.5" stroke="#3b3b9c"/>
<circle cx="497.30" cy="478.97" r="1.5" stroke="#3b3b9c"/>
<circle cx="493.10" cy="481.40" r="1.5" stroke="#3b3b9c"/>
<circle cx="496.90" cy="481.40" r="1.5" stroke="#3b3b9c"/>
<circle cx="504.70" cy="404.60" r="1.5" stroke="#e2232b"/>
<circle cx="504.70" cy="410.70" r="1.5" stroke="#e2232b"/>
<circle cx="504.70" cy="414.80" r="1.5" stroke="#e2232b"/>
<circle cx="504.70" cy="432.00" r="1.5" stroke="#e2232b"/>
<circle cx="504.70" cy="438.20" r="1.5" stroke="#e2232b"/>
<circle cx="504.70" cy="444.30" r="1.5" stroke="#e2232b"/>
<circle cx="504.70" cy="447.80" r="1.5" stroke="#e2232b"/>
<circle cx="504.70" cy="455.30" r="1.5" stroke="#e2232b"/>
<circle cx="504.70" cy="459.50" r="1.5" stroke="#e2232b"/>
<circle cx="504.70" cy="469.10" r="1.5" stroke="#e2232b"/>
<circle cx="504.70" cy="477.30" r="1.5" stroke="#e2232b"/>
<circle cx="503.00" cy="338.30" r="1.5" stroke="#e2232b"/>
<circle cx="507.00" cy="335.80" r="1.5" stroke="#e2232b"/>
<circle cx="502.60" cy="399.60" r="1.5" stroke="#e2232b"/>
<circle cx="506.80" cy="397.80" r="1.5" stroke="#e2232b"/>
<circle cx="502.70" cy="434.70" r="1.5" stroke="#e2232b"/>
<circle cx="506.70" cy="435.40" r="1.5" stroke="#e2232b"/>
<circle cx="502.70" cy="440.20" r="1.5" stroke="#e2232b"/>
<circle cx="502.70" cy="466.30" r="1.5" stroke="#e2232b"/>
<circle cx="506.70" cy="465.60" r="1.5" stroke="#e2232b"/>
<circle cx="502.70" cy="421.70" r="1.5" stroke="#e2232b"/>
<circle cx="506.70" cy="421.70" r="1.5" stroke="#e2232b"/>
<circle cx="502.70" cy="472.50" r="1.5" stroke="#e2232b"/>
<circle cx="506.70" cy="472.50" r="1.5" stroke="#e2232b"/>
<circle cx="502.70" cy="475.20" r="1.5" stroke="#e2232b"/>
<circle cx="506.70" cy="475.20" r="1.5" stroke="#e2232b"/>
</g>
<g class="meds">
<line x1="51.95" x2="62.45" y1="107.60" y2="107.60" stroke="#1e1e1e"/>
<line x1="61.75" x2="72.25" y1="104.90" y2="104.90" stroke="#3b3b9c"/>
<line x1="71.75" x2="82.25" y1="105.30" y2="105.30" stroke="#e2232b"/>
<line x1="100.95" x2="111.45" y1="138.80" y2="138.80" stroke="#1e1e1e"/>
<line x1="110.65" x2="121.15" y1="118.50" y2="118.50" stroke="#3b3b9c"/>
<line x1="120.35" x2="130.85" y1="133.20" y2="133.20" stroke="#e2232b"/>
<line x1="149.25" x2="159.75" y1="107.90" y2="107.90" stroke="#1e1e1e"/>
<line x1="159.05" x2="169.55" y1="107.70" y2="107.70" stroke="#3b3b9c"/>
<line x1="168.95" x2="179.45" y1="107.20" y2="107.20" stroke="#e2232b"/>
<line x1="217.65" x2="228.15" y1="129.40" y2="129.40" stroke="#1e1e1e"/>
<line x1="227.25" x2="237.75" y1="133.20" y2="133.20" stroke="#3b3b9c"/>
<line x1="237.15" x2="247.65" y1="128.50" y2="128.50" stroke="#e2232b"/>
<line x1="265.95" x2="276.45" y1="116.30" y2="116.30" stroke="#1e1e1e"/>
<line x1="275.75" x2="286.25" y1="109.50" y2="109.50" stroke="#3b3b9c"/>
<line x1="286.05" x2="296.55" y1="106.40" y2="106.40" stroke="#e2232b"/>
<line x1="314.85" x2="325.35" y1="120.20" y2="120.20" stroke="#1e1e1e"/>
<line x1="324.75" x2="335.25" y1="132.90" y2="132.90" stroke="#3b3b9c"/>
<line x1="334.05" x2="344.55" y1="119.70" y2="119.70" stroke="#e2232b"/>
<line x1="363.15" x2="373.65" y1="126.80" y2="126.80" stroke="#1e1e1e"/>
<line x1="373.45" x2="383.95" y1="133.70" y2="133.70" stroke="#3b3b9c"/>
<line x1="382.95" x2="393.45" y1="130.40" y2="130.40" stroke="#e2232b"/>
<line x1="431.25" x2="441.75" y1="151.60" y2="151.60" stroke="#1e1e1e"/>
<line x1="441.15" x2="451.65" y1="168.80" y2="168.80" stroke="#3b3b9c"/>
<line x1="451.25" x2="461.75" y1="152.00" y2="152.00" stroke="#e2232b"/>
<line x1="479.95" x2="490.45" y1="146.50" y2="146.50" stroke="#1e1e1e"/>
<line x1="489.95" x2="500.45" y1="152.80" y2="152.80" stroke="#3b3b9c"/>
<line x1="499.55" x2="510.05" y1="139.30" y2="139.30" stroke="#e2232b"/>
<line x1="51.95" x2="62.45" y1="435.80" y2="435.80" stroke="#1e1e1e"/>
<line x1="61.85" x2="72.35" y1="435.40" y2="435.40" stroke="#3b3b9c"/>
<line x1="71.75" x2="82.25" y1="426.20" y2="426.20" stroke="#e2232b"/>
<line x1="100.75" x2="111.25" y1="416.70" y2="416.70" stroke="#1e1e1e"/>
<line x1="110.95" x2="121.45" y1="429.00" y2="429.00" stroke="#3b3b9c"/>
<line x1="120.35" x2="130.85" y1="407.90" y2="407.90" stroke="#e2232b"/>
<line x1="149.75" x2="160.25" y1="436.30" y2="436.30" stroke="#1e1e1e"/>
<line x1="158.95" x2="169.45" y1="435.80" y2="435.80" stroke="#3b3b9c"/>
<line x1="168.95" x2="179.45" y1="429.20" y2="429.20" stroke="#e2232b"/>
<line x1="217.55" x2="228.05" y1="475.70" y2="475.70" stroke="#1e1e1e"/>
<line x1="227.25" x2="237.75" y1="478.10" y2="478.10" stroke="#3b3b9c"/>
<line x1="236.95" x2="247.45" y1="475.20" y2="475.20" stroke="#e2232b"/>
<line x1="265.75" x2="276.25" y1="427.50" y2="427.50" stroke="#1e1e1e"/>
<line x1="275.95" x2="286.45" y1="450.90" y2="450.90" stroke="#3b3b9c"/>
<line x1="285.65" x2="296.15" y1="433.00" y2="433.00" stroke="#e2232b"/>
<line x1="314.85" x2="325.35" y1="443.10" y2="443.10" stroke="#1e1e1e"/>
<line x1="324.55" x2="335.05" y1="450.30" y2="450.30" stroke="#3b3b9c"/>
<line x1="334.15" x2="344.65" y1="443.10" y2="443.10" stroke="#e2232b"/>
<line x1="363.65" x2="374.15" y1="414.90" y2="414.90" stroke="#1e1e1e"/>
<line x1="373.25" x2="383.75" y1="428.60" y2="428.60" stroke="#3b3b9c"/>
<line x1="382.85" x2="393.35" y1="404.00" y2="404.00" stroke="#e2232b"/>
<line x1="431.25" x2="441.75" y1="451.80" y2="451.80" stroke="#1e1e1e"/>
<line x1="441.25" x2="451.75" y1="460.40" y2="460.40" stroke="#3b3b9c"/>
<line x1="451.25" x2="461.75" y1="452.80" y2="452.80" stroke="#e2232b"/>
<line x1="480.25" x2="490.75" y1="453.30" y2="453.30" stroke="#1e1e1e"/>
<line x1="489.75" x2="500.25" y1="454.00" y2="454.00" stroke="#3b3b9c"/>
<line x1="499.45" x2="509.95" y1="441.90" y2="441.90" stroke="#e2232b"/>
</g>

<!-- legend -->
<g class="pts">
<circle cx="57.1" cy="540" r="1.5" stroke="#1e1e1e"/>
<circle cx="170.6" cy="540" r="1.5" stroke="#3b3b9c"/>
<circle cx="302.7" cy="540" r="1.5" stroke="#e2232b"/>
</g>
<text class="lg" x="63.5" y="543.3">Healthy subjects</text>
<text class="lg" x="177" y="543.3">Recipients d84–d365</text>
<text class="lg" x="309.8" y="543.3">Recipients d366–</text>
</svg>
</body></html>
